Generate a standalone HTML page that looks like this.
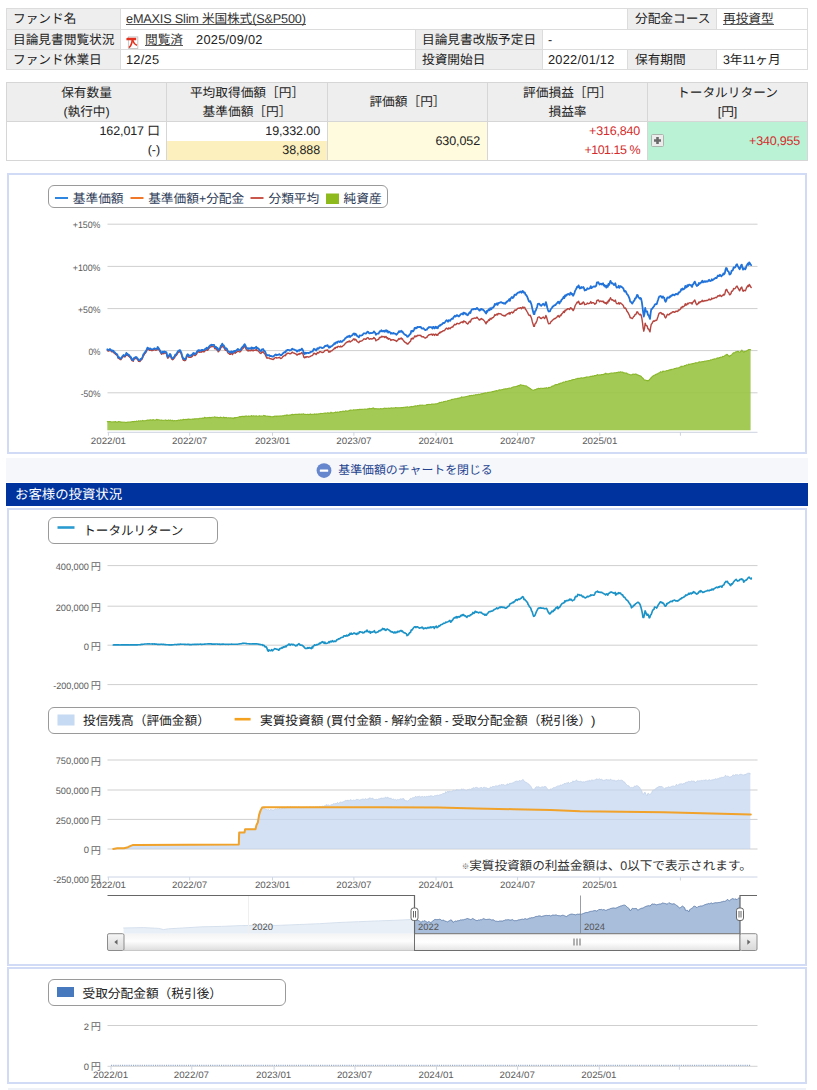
<!DOCTYPE html>
<html lang="ja"><head><meta charset="utf-8"><title>eMAXIS Slim S&amp;P500</title>
<style>
html,body{margin:0;padding:0;background:#fff}
body{text-rendering:geometricPrecision;width:817px;height:1090px;position:relative;overflow:hidden;font-family:"Liberation Sans","Noto Sans CJK JP",sans-serif;font-size:12.7px;color:#222}
.a{position:absolute;box-sizing:border-box}
.t1{left:6px;top:8px;width:802px;height:62px;background:#dcdcdc}
.c{position:absolute;box-sizing:border-box;height:20px;line-height:20px;padding-left:6px;white-space:nowrap;background:#fff;overflow:hidden}
.c.l{background:#eee}
.r1{top:1px;height:20px;line-height:21px}.r2{top:22px;height:19px;line-height:21px}.r3{top:42px;height:19px;line-height:21px}
.u{line-height:0;color:#333;background:linear-gradient(#555,#555) no-repeat;background-size:100% 1.200px;background-position:0 calc(100% - 1.200px)}
.n,.nd,.nl{line-height:0}
.n{font-size:12.5px;letter-spacing:-0.1px}
.nd{font-size:12.8px;letter-spacing:.25px}
.nl{font-size:12.7px;letter-spacing:-0.18px}
.t2{left:6px;top:82px;width:802px;height:79px;background:#d6d6d6}
.h{position:absolute;box-sizing:border-box;background:#eee;text-align:center;line-height:19px;top:1px;height:38px;padding-top:1px;white-space:nowrap}
.d{position:absolute;box-sizing:border-box;background:#fff;text-align:right;white-space:nowrap}
.red{color:#d52b2b}
.box{position:absolute;left:7px;width:800px;border:2px solid #d2dbf6;box-sizing:border-box;background:#fff}
.lg{position:absolute;box-sizing:border-box;border:1px solid #9a9a9a;border-radius:6px;background:#fff;white-space:nowrap;color:#333}
svg text{font-family:"Liberation Sans","Noto Sans CJK JP",sans-serif}
</style></head>
<body>

<!-- fund info table -->
<div class="a t1">
  <div class="c l r1" style="left:1px;width:113px">ファンド名</div>
  <div class="c r1" style="left:115px;width:506px;padding-left:5px"><span class="u nl">eMAXIS Slim 米国株式(S&amp;P500)</span></div>
  <div class="c l r1" style="left:622px;width:88px;padding-left:7px">分配金コース</div>
  <div class="c r1" style="left:711px;width:90px"><span class="u">再投資型</span></div>

  <div class="c l r2" style="left:1px;width:113px">目論見書閲覧状況</div>
  <div class="c r2" style="left:115px;width:294px;padding-left:5px"><svg class="a" style="left:5px;top:5.500px" width="13" height="13" viewBox="0 0 13 13"><rect x="2.400" y="0.900" width="9.400" height="11.600" fill="#fff" stroke="#c4c4c4" stroke-width="0.900"/><path d="M0.400 2.300l1-0.500h8.800v2.400H0.400z" fill="#e2321f"/><path d="M6.300 3.600C6 7 4.900 10 3 11.600" stroke="#e2321f" stroke-width="1.600" fill="none"/><path d="M6.700 3.600C7.300 6.500 8.700 8.500 11 9.200" stroke="#e2321f" stroke-width="1.500" fill="none"/></svg><span class="u" style="margin-left:19px">閲覧済</span><span class="nd" style="margin-left:13px">2025/09/02</span></div>
  <div class="c l r2" style="left:410px;width:126px">目論見書改版予定日</div>
  <div class="c r2" style="left:537px;width:264px;padding-left:5px"><span class="n">-</span></div>

  <div class="c l r3" style="left:1px;width:113px">ファンド休業日</div>
  <div class="c r3" style="left:115px;width:294px;padding-left:5px"><span class="nd">12/25</span></div>
  <div class="c l r3" style="left:410px;width:126px">投資開始日</div>
  <div class="c r3" style="left:537px;width:84px;padding-left:5px"><span class="nd">2022/01/12</span></div>
  <div class="c l r3" style="left:622px;width:88px;padding-left:7px">保有期間</div>
  <div class="c r3" style="left:711px;width:90px"><span class="n">3</span>年<span class="n">11</span>ヶ月</div>
</div>

<!-- holdings table -->
<div class="a t2">
  <div class="h" style="left:1px;width:159px">保有数量<br><span class="n">(</span>執行中<span class="n">)</span></div>
  <div class="h" style="left:161px;width:160px">平均取得価額［円］<br>基準価額［円］</div>
  <div class="h" style="left:322px;width:159px;line-height:38px;padding-top:0">評価額［円］</div>
  <div class="h" style="left:482px;width:159px">評価損益［円］<br>損益率</div>
  <div class="h" style="left:642px;width:159px">トータルリターン<br><span class="n">[</span>円<span class="n">]</span></div>

  <div class="d" style="left:1px;top:40px;width:159px;height:38px;line-height:19px;padding-right:6px"><span class="n">162,017 </span>口<br><span class="n">(-)</span></div>
  <div class="d" style="left:161px;top:40px;width:160px;height:19px;line-height:19px;padding-right:7px"><span class="n">19,332.00</span></div>
  <div class="d" style="left:161px;top:59px;width:160px;height:19px;line-height:19px;padding-right:7px;background:#fcf1be"><span class="n">38,888</span></div>
  <div class="d" style="left:322px;top:40px;width:159px;height:38px;line-height:38px;padding-right:7px;background:#fffbde"><span class="n">630,052</span></div>
  <div class="d red" style="left:482px;top:40px;width:159px;height:38px;line-height:19px;padding-right:7px"><span class="n" style="letter-spacing:-0.2px">+316,840</span><br><span class="n" style="letter-spacing:-0.5px">+101.15 %</span></div>
  <div class="d red" style="left:642px;top:40px;width:159px;height:38px;line-height:38px;padding-right:7px;background:#baf2d6"><span class="n" style="letter-spacing:-0.2px">+340,955</span>
    <svg class="a" style="left:2.500px;top:12.300px" width="13" height="13" viewBox="0 0 13 13"><rect x="0.500" y="0.500" width="12" height="12" rx="1" fill="#ececec" stroke="#a9b5ad"/><path d="M3 6.500h7M6.500 3v7" stroke="#6a6a6a" stroke-width="2.600"/></svg></div>
</div>

<!-- chart 1 -->
<div class="box" style="top:173px;height:281px"></div>
<div class="lg" style="left:48px;top:185px;width:340px;height:23px"></div>
<svg class="a" style="left:0;top:0" width="817" height="1090" viewBox="0 0 817 1090"><path d="M55 198h13" stroke="#2f86e0" stroke-width="2"/><text x="72.80" y="202.60" font-size="12.70" fill="#2e3c58">基準価額</text><path d="M130.500 198h13" stroke="#f07828" stroke-width="2"/><text x="148.20" y="202.60" font-size="12.70" fill="#2e3c58">基準価額</text><text x="199.00" y="202.60" font-size="12.70" text-anchor="start" fill="#2e3c58" textLength="7.21" lengthAdjust="spacingAndGlyphs">+</text><text x="206.20" y="202.60" font-size="12.70" fill="#2e3c58">分配金</text><path d="M250.500 198h13" stroke="#c0392b" stroke-width="1.700"/><text x="268.50" y="202.60" font-size="12.70" fill="#2e3c58">分類平均</text><rect x="326" y="193.500" width="13" height="10.500" fill="#8fba1e"/><text x="343.60" y="202.60" font-size="12.70" fill="#2e3c58">純資産</text><path d="M107.5 224.2H757.5" stroke="#cfcfcf" stroke-width="1"/><text x="100.50" y="228.40" font-size="9.30" text-anchor="end" fill="#5c5c5c" textLength="27.77" lengthAdjust="spacingAndGlyphs">+150%</text><path d="M107.5 266.4H757.5" stroke="#cfcfcf" stroke-width="1"/><text x="100.50" y="270.60" font-size="9.30" text-anchor="end" fill="#5c5c5c" textLength="27.77" lengthAdjust="spacingAndGlyphs">+100%</text><path d="M107.5 308.6H757.5" stroke="#cfcfcf" stroke-width="1"/><text x="100.50" y="312.80" font-size="9.30" text-anchor="end" fill="#5c5c5c" textLength="22.54" lengthAdjust="spacingAndGlyphs">+50%</text><path d="M107.5 350.6H757.5" stroke="#cfcfcf" stroke-width="1"/><text x="100.50" y="354.80" font-size="9.30" text-anchor="end" fill="#5c5c5c" textLength="12.04" lengthAdjust="spacingAndGlyphs">0%</text><path d="M107.5 392.8H757.5" stroke="#cfcfcf" stroke-width="1"/><text x="100.50" y="397.00" font-size="9.30" text-anchor="end" fill="#5c5c5c" textLength="19.84" lengthAdjust="spacingAndGlyphs">-50%</text><path d="M107.3 430.2L107.3 421.6L108.0 421.7L108.7 421.6L109.4 421.6L110.0 421.5L110.7 421.7L111.4 422.0L112.1 421.9L112.8 422.0L113.4 421.9L114.1 421.9L114.8 421.9L115.5 421.5L116.2 422.1L116.8 422.0L117.5 422.1L118.2 421.6L118.9 421.6L119.6 421.8L120.2 421.9L120.9 422.1L121.6 422.1L122.3 422.2L123.0 422.0L123.6 422.2L124.3 422.3L125.0 422.1L125.7 422.6L126.4 422.4L127.0 422.5L127.7 422.1L128.4 422.0L129.1 422.0L129.8 422.0L130.4 422.1L131.1 421.9L131.8 421.7L132.5 421.5L133.2 421.6L133.8 421.9L134.5 421.4L135.2 421.5L135.9 421.5L136.6 421.0L137.2 421.3L137.9 421.5L138.6 420.7L139.3 421.0L140.0 421.0L140.6 420.8L141.3 421.0L142.0 420.8L142.7 420.4L143.4 420.9L144.0 420.7L144.7 420.7L145.4 420.8L146.1 420.5L146.8 420.4L147.4 420.0L148.1 420.4L148.8 420.1L149.5 420.1L150.2 419.9L150.8 419.9L151.5 420.0L152.2 420.4L152.9 419.6L153.6 419.7L154.2 420.1L154.9 420.3L155.6 420.1L156.3 419.6L157.0 419.4L157.6 420.0L158.3 419.8L159.0 419.8L159.7 420.2L160.4 420.3L161.0 420.1L161.7 420.1L162.4 420.2L163.1 420.5L163.8 420.3L164.4 420.3L165.1 420.3L165.8 419.9L166.5 420.5L167.2 420.5L167.8 420.4L168.5 419.9L169.2 420.2L169.9 420.6L170.6 420.0L171.2 420.4L171.9 420.7L172.6 420.2L173.3 420.9L174.0 420.7L174.6 420.5L175.3 420.7L176.0 420.7L176.7 420.5L177.4 420.6L178.0 420.2L178.7 420.1L179.4 420.4L180.1 420.1L180.8 419.8L181.4 420.1L182.1 420.1L182.8 419.6L183.5 419.4L184.2 419.6L184.8 419.5L185.5 419.4L186.2 419.8L186.9 419.2L187.6 419.6L188.2 419.0L188.9 419.1L189.6 419.4L190.3 419.4L191.0 419.3L191.6 419.2L192.3 419.1L193.0 419.0L193.7 419.1L194.4 418.9L195.0 418.9L195.7 418.9L196.4 418.7L197.1 418.8L197.8 418.7L198.4 418.9L199.1 418.5L199.8 418.3L200.5 418.2L201.2 418.2L201.8 418.4L202.5 418.0L203.2 418.1L203.9 418.4L204.6 417.3L205.2 417.6L205.9 417.9L206.6 417.9L207.3 417.8L208.0 417.6L208.6 417.8L209.3 417.6L210.0 417.4L210.7 418.0L211.4 417.5L212.0 417.3L212.7 417.3L213.4 417.3L214.1 417.3L214.8 416.7L215.4 417.2L216.1 417.6L216.8 417.1L217.5 417.4L218.2 417.6L218.8 417.6L219.5 417.8L220.2 417.1L220.9 417.4L221.6 417.5L222.2 417.7L222.9 417.8L223.6 417.0L224.3 417.9L225.0 417.3L225.6 417.8L226.3 417.4L227.0 417.8L227.7 418.0L228.4 417.7L229.0 417.8L229.7 418.0L230.4 417.9L231.1 417.8L231.8 418.2L232.4 418.1L233.1 417.9L233.8 418.6L234.5 417.6L235.2 417.9L235.8 417.6L236.5 417.5L237.2 417.5L237.9 417.3L238.6 417.3L239.2 416.7L239.9 416.6L240.6 417.0L241.3 416.5L242.0 416.4L242.6 416.2L243.3 416.6L244.0 416.4L244.7 416.6L245.4 416.0L246.0 416.2L246.7 415.9L247.4 416.3L248.1 416.5L248.8 415.9L249.4 416.4L250.1 416.3L250.8 416.0L251.5 415.6L252.2 416.3L252.8 416.0L253.5 415.8L254.2 416.0L254.9 416.0L255.6 416.3L256.2 415.7L256.9 416.2L257.6 416.3L258.3 416.3L259.0 415.9L259.6 415.8L260.3 416.2L261.0 416.0L261.7 416.0L262.4 416.3L263.0 415.9L263.7 415.4L264.4 415.9L265.1 415.6L265.8 416.3L266.4 416.2L267.1 416.0L267.8 416.2L268.5 416.4L269.2 416.3L269.8 416.6L270.5 416.4L271.2 416.7L271.9 416.8L272.6 416.9L273.2 416.4L273.9 416.8L274.6 416.1L275.3 416.2L276.0 416.0L276.6 416.6L277.3 416.0L278.0 416.2L278.7 416.1L279.4 416.1L280.0 415.9L280.7 416.0L281.4 416.2L282.1 415.8L282.8 415.8L283.4 415.9L284.1 415.5L284.8 415.2L285.5 415.3L286.2 415.6L286.8 414.9L287.5 415.1L288.2 415.4L288.9 415.3L289.6 415.0L290.2 415.1L290.9 414.9L291.6 414.6L292.3 414.4L293.0 414.6L293.6 414.8L294.3 414.5L295.0 414.4L295.7 414.4L296.4 414.2L297.0 414.5L297.7 414.2L298.4 414.5L299.1 413.9L299.8 414.5L300.4 414.3L301.1 413.9L301.8 414.5L302.5 414.3L303.2 413.8L303.8 414.1L304.5 414.4L305.2 414.2L305.9 414.5L306.6 414.5L307.2 414.4L307.9 414.4L308.6 414.6L309.3 414.4L310.0 414.4L310.6 413.8L311.3 414.5L312.0 414.6L312.7 414.2L313.4 414.2L314.0 414.7L314.7 413.8L315.4 414.2L316.1 414.6L316.8 413.8L317.4 414.1L318.1 414.3L318.8 413.8L319.5 413.8L320.2 413.8L320.8 413.4L321.5 413.5L322.2 413.5L322.9 413.6L323.6 413.3L324.2 413.2L324.9 413.0L325.6 413.1L326.3 413.3L327.0 413.1L327.6 412.8L328.3 412.8L329.0 413.5L329.7 413.1L330.4 413.0L331.0 412.2L331.7 412.9L332.4 412.8L333.1 413.0L333.8 412.7L334.4 412.5L335.1 412.5L335.8 411.9L336.5 412.5L337.2 412.2L337.8 411.9L338.5 412.3L339.2 412.3L339.9 411.5L340.6 411.6L341.2 411.7L341.9 411.6L342.6 411.3L343.3 411.1L344.0 411.7L344.6 411.4L345.3 410.8L346.0 410.7L346.7 411.3L347.4 411.0L348.0 411.1L348.7 410.8L349.4 410.3L350.1 410.5L350.8 409.9L351.4 410.1L352.1 410.2L352.8 410.2L353.5 409.8L354.2 409.9L354.8 410.0L355.5 409.9L356.2 409.9L356.9 409.8L357.6 409.6L358.2 409.8L358.9 409.6L359.6 409.4L360.3 409.4L361.0 409.5L361.6 409.4L362.3 409.4L363.0 409.3L363.7 409.3L364.4 409.2L365.0 408.9L365.7 409.2L366.4 409.3L367.1 409.1L367.8 408.9L368.4 409.0L369.1 408.6L369.8 408.4L370.5 408.7L371.2 408.5L371.8 408.8L372.5 408.3L373.2 407.9L373.9 408.3L374.6 409.0L375.2 408.7L375.9 408.6L376.6 408.7L377.3 408.9L378.0 408.9L378.6 408.8L379.3 409.0L380.0 408.8L380.7 408.6L381.4 408.7L382.0 408.9L382.7 408.7L383.4 408.6L384.1 408.1L384.8 408.3L385.4 408.4L386.1 408.2L386.8 408.4L387.5 408.3L388.2 408.3L388.8 408.0L389.5 408.6L390.2 408.2L390.9 407.9L391.6 407.9L392.2 408.4L392.9 407.8L393.6 408.0L394.3 408.0L395.0 407.8L395.6 407.5L396.3 407.8L397.0 407.8L397.7 407.9L398.4 407.8L399.0 407.7L399.7 407.8L400.4 407.7L401.1 407.6L401.8 407.6L402.4 407.5L403.1 407.7L403.8 407.3L404.5 407.3L405.2 407.4L405.8 407.1L406.5 407.2L407.2 406.8L407.9 407.0L408.6 407.2L409.2 407.1L409.9 406.9L410.6 406.7L411.3 406.4L412.0 407.0L412.6 406.6L413.3 406.7L414.0 406.1L414.7 406.2L415.4 405.8L416.0 406.2L416.7 406.2L417.4 405.5L418.1 405.8L418.8 405.8L419.4 405.2L420.1 405.1L420.8 405.2L421.5 405.2L422.2 405.0L422.8 405.2L423.5 405.2L424.2 405.2L424.9 405.2L425.6 405.3L426.2 405.1L426.9 404.5L427.6 404.6L428.3 404.5L429.0 404.4L429.6 404.5L430.3 404.5L431.0 404.5L431.7 404.0L432.4 404.0L433.0 404.2L433.7 404.1L434.4 404.0L435.1 404.0L435.8 403.8L436.4 403.9L437.1 403.7L437.8 403.4L438.5 403.1L439.2 403.0L439.8 402.3L440.5 402.5L441.2 402.5L441.9 402.0L442.6 402.2L443.2 402.0L443.9 401.5L444.6 401.5L445.3 401.4L446.0 401.3L446.6 401.2L447.3 400.9L448.0 400.5L448.7 400.5L449.4 400.3L450.0 400.3L450.7 400.0L451.4 399.6L452.1 399.4L452.8 399.4L453.4 399.2L454.1 398.9L454.8 399.0L455.5 398.7L456.2 398.7L456.8 398.7L457.5 398.3L458.2 398.7L458.9 398.0L459.6 398.1L460.2 397.8L460.9 397.8L461.6 396.9L462.3 397.1L463.0 397.2L463.6 397.1L464.3 397.3L465.0 396.7L465.7 396.8L466.4 396.5L467.0 396.4L467.7 396.2L468.4 396.0L469.1 396.0L469.8 395.5L470.4 395.9L471.1 395.3L471.8 395.5L472.5 395.8L473.2 395.2L473.8 395.1L474.5 395.2L475.2 394.9L475.9 394.6L476.6 394.7L477.2 394.7L477.9 394.6L478.6 394.1L479.3 394.6L480.0 394.4L480.6 394.0L481.3 393.9L482.0 393.6L482.7 393.9L483.4 393.3L484.0 393.4L484.7 393.1L485.4 392.9L486.1 393.0L486.8 393.0L487.4 392.6L488.1 392.3L488.8 392.5L489.5 392.2L490.2 392.1L490.8 392.3L491.5 392.0L492.2 391.6L492.9 392.0L493.6 391.4L494.2 391.4L494.9 391.0L495.6 391.0L496.3 390.5L497.0 391.1L497.6 390.9L498.3 390.2L499.0 390.0L499.7 389.8L500.4 390.3L501.0 389.8L501.7 389.7L502.4 389.6L503.1 389.5L503.8 389.1L504.4 389.2L505.1 388.8L505.8 388.9L506.5 388.9L507.2 388.8L507.8 388.5L508.5 388.2L509.2 388.3L509.9 388.0L510.6 388.3L511.2 388.0L511.9 387.6L512.6 387.3L513.3 387.0L514.0 386.8L514.6 386.7L515.3 386.7L516.0 386.5L516.7 386.3L517.4 386.4L518.0 385.6L518.7 385.6L519.4 386.0L520.1 384.8L520.8 384.8L521.4 385.1L522.1 385.2L522.8 385.4L523.5 385.4L524.2 385.7L524.8 385.8L525.5 386.1L526.2 385.8L526.9 386.4L527.6 387.0L528.2 387.2L528.9 387.6L529.6 388.4L530.3 388.5L531.0 389.2L531.6 389.6L532.3 389.9L533.0 390.4L533.7 390.3L534.4 389.7L535.0 389.7L535.7 389.6L536.4 389.1L537.1 388.9L537.8 388.8L538.4 388.2L539.1 388.5L539.8 388.8L540.5 388.2L541.2 388.3L541.8 388.2L542.5 388.6L543.2 388.3L543.9 388.4L544.6 388.0L545.2 388.1L545.9 388.1L546.6 387.6L547.3 388.3L548.0 388.2L548.6 387.4L549.3 387.7L550.0 387.2L550.7 387.1L551.4 386.8L552.0 386.1L552.7 386.1L553.4 386.2L554.1 385.5L554.8 385.1L555.4 384.8L556.1 384.5L556.8 384.6L557.5 384.6L558.2 384.1L558.8 383.8L559.5 384.1L560.2 383.2L560.9 383.0L561.6 383.1L562.2 382.9L562.9 382.3L563.6 382.1L564.3 382.2L565.0 382.0L565.6 381.4L566.3 381.5L567.0 381.2L567.7 381.2L568.4 380.9L569.0 380.7L569.7 380.5L570.4 380.6L571.1 380.5L571.8 379.9L572.4 380.0L573.1 379.5L573.8 379.5L574.5 379.5L575.2 379.4L575.8 378.9L576.5 378.8L577.2 378.8L577.9 378.3L578.6 378.6L579.2 378.3L579.9 378.5L580.6 378.1L581.3 377.8L582.0 378.1L582.6 378.1L583.3 377.8L584.0 378.0L584.7 377.6L585.4 377.4L586.0 377.5L586.7 376.9L587.4 377.0L588.1 377.0L588.8 377.0L589.4 376.7L590.1 376.6L590.8 376.3L591.5 376.4L592.2 376.5L592.8 375.9L593.5 376.4L594.2 375.6L594.9 375.6L595.6 375.5L596.2 375.6L596.9 374.9L597.6 374.6L598.3 375.1L599.0 375.0L599.6 374.9L600.3 375.3L601.0 374.6L601.7 374.5L602.4 374.6L603.0 374.4L603.7 374.6L604.4 373.9L605.1 374.0L605.8 373.2L606.4 374.0L607.1 373.7L607.8 373.9L608.5 374.1L609.2 373.5L609.8 373.4L610.5 373.2L611.2 373.0L611.9 373.0L612.6 373.2L613.2 373.0L613.9 372.9L614.6 372.7L615.3 372.9L616.0 372.7L616.6 372.5L617.3 372.6L618.0 372.3L618.7 372.0L619.4 372.5L620.0 372.1L620.7 371.8L621.4 372.3L622.1 372.3L622.8 372.0L623.4 372.9L624.1 372.7L624.8 373.0L625.5 373.0L626.2 373.1L626.8 373.1L627.5 373.9L628.2 374.0L628.9 374.2L629.6 374.6L630.2 374.8L630.9 375.1L631.6 374.7L632.3 374.6L633.0 374.0L633.6 374.3L634.3 374.4L635.0 374.4L635.7 373.9L636.4 374.2L637.0 374.9L637.7 374.7L638.4 375.2L639.1 375.7L639.8 375.6L640.4 376.1L641.1 376.3L641.8 377.1L642.5 377.8L643.2 378.5L643.8 379.4L644.5 380.3L645.2 380.0L645.9 380.2L646.6 380.6L647.2 380.5L647.9 381.0L648.6 380.6L649.3 379.8L650.0 379.3L650.6 378.1L651.3 377.9L652.0 376.8L652.7 376.3L653.4 375.7L654.0 375.4L654.7 375.3L655.4 374.8L656.1 374.3L656.8 374.1L657.4 374.0L658.1 373.3L658.8 373.0L659.5 372.8L660.2 372.3L660.8 371.6L661.5 372.3L662.2 372.1L662.9 371.1L663.6 371.4L664.2 371.3L664.9 371.3L665.6 371.1L666.3 370.8L667.0 370.5L667.6 370.6L668.3 370.7L669.0 370.0L669.7 369.9L670.4 370.0L671.0 369.4L671.7 369.6L672.4 369.3L673.1 369.3L673.8 368.9L674.4 368.6L675.1 368.5L675.8 368.4L676.5 368.1L677.2 368.0L677.8 368.0L678.5 367.9L679.2 367.8L679.9 367.0L680.6 366.9L681.2 366.2L681.9 367.0L682.6 366.2L683.3 366.2L684.0 366.1L684.6 365.5L685.3 365.7L686.0 365.3L686.7 364.7L687.4 365.0L688.0 365.0L688.7 364.1L689.4 364.5L690.1 364.2L690.8 364.0L691.4 363.9L692.1 364.0L692.8 363.5L693.5 363.6L694.2 363.2L694.8 363.3L695.5 362.8L696.2 362.8L696.9 363.1L697.6 362.7L698.2 362.4L698.9 362.0L699.6 361.9L700.3 362.0L701.0 362.1L701.6 361.8L702.3 361.8L703.0 361.5L703.7 361.7L704.4 361.2L705.0 361.1L705.7 361.3L706.4 361.0L707.1 360.8L707.8 360.7L708.4 360.6L709.1 360.7L709.8 360.4L710.5 359.9L711.2 360.1L711.8 359.8L712.5 359.4L713.2 359.5L713.9 359.1L714.6 358.9L715.2 359.0L715.9 358.9L716.6 358.2L717.3 358.3L718.0 357.8L718.6 358.3L719.3 357.5L720.0 357.7L720.7 357.1L721.4 357.3L722.0 357.4L722.7 356.2L723.4 356.5L724.1 356.4L724.8 355.7L725.4 355.0L726.1 355.1L726.8 354.4L727.5 354.6L728.2 355.7L728.8 355.7L729.5 356.6L730.2 355.7L730.9 355.3L731.6 355.0L732.2 354.2L732.9 353.4L733.6 352.7L734.3 352.9L735.0 352.5L735.6 351.9L736.3 352.0L737.0 351.6L737.7 351.4L738.4 351.2L739.0 352.1L739.7 352.3L740.4 351.7L741.1 351.2L741.8 350.0L742.4 351.0L743.1 351.5L743.8 352.4L744.5 351.6L745.2 351.4L745.8 351.2L746.5 351.1L747.2 350.4L747.9 350.4L748.6 349.5L749.2 349.5L749.9 349.5L750.6 349.8L750.6 430.2Z" fill="rgba(154,196,68,0.9)"/><path d="M107.3 421.6L108.0 421.7L108.7 421.6L109.4 421.6L110.0 421.5L110.7 421.7L111.4 422.0L112.1 421.9L112.8 422.0L113.4 421.9L114.1 421.9L114.8 421.9L115.5 421.5L116.2 422.1L116.8 422.0L117.5 422.1L118.2 421.6L118.9 421.6L119.6 421.8L120.2 421.9L120.9 422.1L121.6 422.1L122.3 422.2L123.0 422.0L123.6 422.2L124.3 422.3L125.0 422.1L125.7 422.6L126.4 422.4L127.0 422.5L127.7 422.1L128.4 422.0L129.1 422.0L129.8 422.0L130.4 422.1L131.1 421.9L131.8 421.7L132.5 421.5L133.2 421.6L133.8 421.9L134.5 421.4L135.2 421.5L135.9 421.5L136.6 421.0L137.2 421.3L137.9 421.5L138.6 420.7L139.3 421.0L140.0 421.0L140.6 420.8L141.3 421.0L142.0 420.8L142.7 420.4L143.4 420.9L144.0 420.7L144.7 420.7L145.4 420.8L146.1 420.5L146.8 420.4L147.4 420.0L148.1 420.4L148.8 420.1L149.5 420.1L150.2 419.9L150.8 419.9L151.5 420.0L152.2 420.4L152.9 419.6L153.6 419.7L154.2 420.1L154.9 420.3L155.6 420.1L156.3 419.6L157.0 419.4L157.6 420.0L158.3 419.8L159.0 419.8L159.7 420.2L160.4 420.3L161.0 420.1L161.7 420.1L162.4 420.2L163.1 420.5L163.8 420.3L164.4 420.3L165.1 420.3L165.8 419.9L166.5 420.5L167.2 420.5L167.8 420.4L168.5 419.9L169.2 420.2L169.9 420.6L170.6 420.0L171.2 420.4L171.9 420.7L172.6 420.2L173.3 420.9L174.0 420.7L174.6 420.5L175.3 420.7L176.0 420.7L176.7 420.5L177.4 420.6L178.0 420.2L178.7 420.1L179.4 420.4L180.1 420.1L180.8 419.8L181.4 420.1L182.1 420.1L182.8 419.6L183.5 419.4L184.2 419.6L184.8 419.5L185.5 419.4L186.2 419.8L186.9 419.2L187.6 419.6L188.2 419.0L188.9 419.1L189.6 419.4L190.3 419.4L191.0 419.3L191.6 419.2L192.3 419.1L193.0 419.0L193.7 419.1L194.4 418.9L195.0 418.9L195.7 418.9L196.4 418.7L197.1 418.8L197.8 418.7L198.4 418.9L199.1 418.5L199.8 418.3L200.5 418.2L201.2 418.2L201.8 418.4L202.5 418.0L203.2 418.1L203.9 418.4L204.6 417.3L205.2 417.6L205.9 417.9L206.6 417.9L207.3 417.8L208.0 417.6L208.6 417.8L209.3 417.6L210.0 417.4L210.7 418.0L211.4 417.5L212.0 417.3L212.7 417.3L213.4 417.3L214.1 417.3L214.8 416.7L215.4 417.2L216.1 417.6L216.8 417.1L217.5 417.4L218.2 417.6L218.8 417.6L219.5 417.8L220.2 417.1L220.9 417.4L221.6 417.5L222.2 417.7L222.9 417.8L223.6 417.0L224.3 417.9L225.0 417.3L225.6 417.8L226.3 417.4L227.0 417.8L227.7 418.0L228.4 417.7L229.0 417.8L229.7 418.0L230.4 417.9L231.1 417.8L231.8 418.2L232.4 418.1L233.1 417.9L233.8 418.6L234.5 417.6L235.2 417.9L235.8 417.6L236.5 417.5L237.2 417.5L237.9 417.3L238.6 417.3L239.2 416.7L239.9 416.6L240.6 417.0L241.3 416.5L242.0 416.4L242.6 416.2L243.3 416.6L244.0 416.4L244.7 416.6L245.4 416.0L246.0 416.2L246.7 415.9L247.4 416.3L248.1 416.5L248.8 415.9L249.4 416.4L250.1 416.3L250.8 416.0L251.5 415.6L252.2 416.3L252.8 416.0L253.5 415.8L254.2 416.0L254.9 416.0L255.6 416.3L256.2 415.7L256.9 416.2L257.6 416.3L258.3 416.3L259.0 415.9L259.6 415.8L260.3 416.2L261.0 416.0L261.7 416.0L262.4 416.3L263.0 415.9L263.7 415.4L264.4 415.9L265.1 415.6L265.8 416.3L266.4 416.2L267.1 416.0L267.8 416.2L268.5 416.4L269.2 416.3L269.8 416.6L270.5 416.4L271.2 416.7L271.9 416.8L272.6 416.9L273.2 416.4L273.9 416.8L274.6 416.1L275.3 416.2L276.0 416.0L276.6 416.6L277.3 416.0L278.0 416.2L278.7 416.1L279.4 416.1L280.0 415.9L280.7 416.0L281.4 416.2L282.1 415.8L282.8 415.8L283.4 415.9L284.1 415.5L284.8 415.2L285.5 415.3L286.2 415.6L286.8 414.9L287.5 415.1L288.2 415.4L288.9 415.3L289.6 415.0L290.2 415.1L290.9 414.9L291.6 414.6L292.3 414.4L293.0 414.6L293.6 414.8L294.3 414.5L295.0 414.4L295.7 414.4L296.4 414.2L297.0 414.5L297.7 414.2L298.4 414.5L299.1 413.9L299.8 414.5L300.4 414.3L301.1 413.9L301.8 414.5L302.5 414.3L303.2 413.8L303.8 414.1L304.5 414.4L305.2 414.2L305.9 414.5L306.6 414.5L307.2 414.4L307.9 414.4L308.6 414.6L309.3 414.4L310.0 414.4L310.6 413.8L311.3 414.5L312.0 414.6L312.7 414.2L313.4 414.2L314.0 414.7L314.7 413.8L315.4 414.2L316.1 414.6L316.8 413.8L317.4 414.1L318.1 414.3L318.8 413.8L319.5 413.8L320.2 413.8L320.8 413.4L321.5 413.5L322.2 413.5L322.9 413.6L323.6 413.3L324.2 413.2L324.9 413.0L325.6 413.1L326.3 413.3L327.0 413.1L327.6 412.8L328.3 412.8L329.0 413.5L329.7 413.1L330.4 413.0L331.0 412.2L331.7 412.9L332.4 412.8L333.1 413.0L333.8 412.7L334.4 412.5L335.1 412.5L335.8 411.9L336.5 412.5L337.2 412.2L337.8 411.9L338.5 412.3L339.2 412.3L339.9 411.5L340.6 411.6L341.2 411.7L341.9 411.6L342.6 411.3L343.3 411.1L344.0 411.7L344.6 411.4L345.3 410.8L346.0 410.7L346.7 411.3L347.4 411.0L348.0 411.1L348.7 410.8L349.4 410.3L350.1 410.5L350.8 409.9L351.4 410.1L352.1 410.2L352.8 410.2L353.5 409.8L354.2 409.9L354.8 410.0L355.5 409.9L356.2 409.9L356.9 409.8L357.6 409.6L358.2 409.8L358.9 409.6L359.6 409.4L360.3 409.4L361.0 409.5L361.6 409.4L362.3 409.4L363.0 409.3L363.7 409.3L364.4 409.2L365.0 408.9L365.7 409.2L366.4 409.3L367.1 409.1L367.8 408.9L368.4 409.0L369.1 408.6L369.8 408.4L370.5 408.7L371.2 408.5L371.8 408.8L372.5 408.3L373.2 407.9L373.9 408.3L374.6 409.0L375.2 408.7L375.9 408.6L376.6 408.7L377.3 408.9L378.0 408.9L378.6 408.8L379.3 409.0L380.0 408.8L380.7 408.6L381.4 408.7L382.0 408.9L382.7 408.7L383.4 408.6L384.1 408.1L384.8 408.3L385.4 408.4L386.1 408.2L386.8 408.4L387.5 408.3L388.2 408.3L388.8 408.0L389.5 408.6L390.2 408.2L390.9 407.9L391.6 407.9L392.2 408.4L392.9 407.8L393.6 408.0L394.3 408.0L395.0 407.8L395.6 407.5L396.3 407.8L397.0 407.8L397.7 407.9L398.4 407.8L399.0 407.7L399.7 407.8L400.4 407.7L401.1 407.6L401.8 407.6L402.4 407.5L403.1 407.7L403.8 407.3L404.5 407.3L405.2 407.4L405.8 407.1L406.5 407.2L407.2 406.8L407.9 407.0L408.6 407.2L409.2 407.1L409.9 406.9L410.6 406.7L411.3 406.4L412.0 407.0L412.6 406.6L413.3 406.7L414.0 406.1L414.7 406.2L415.4 405.8L416.0 406.2L416.7 406.2L417.4 405.5L418.1 405.8L418.8 405.8L419.4 405.2L420.1 405.1L420.8 405.2L421.5 405.2L422.2 405.0L422.8 405.2L423.5 405.2L424.2 405.2L424.9 405.2L425.6 405.3L426.2 405.1L426.9 404.5L427.6 404.6L428.3 404.5L429.0 404.4L429.6 404.5L430.3 404.5L431.0 404.5L431.7 404.0L432.4 404.0L433.0 404.2L433.7 404.1L434.4 404.0L435.1 404.0L435.8 403.8L436.4 403.9L437.1 403.7L437.8 403.4L438.5 403.1L439.2 403.0L439.8 402.3L440.5 402.5L441.2 402.5L441.9 402.0L442.6 402.2L443.2 402.0L443.9 401.5L444.6 401.5L445.3 401.4L446.0 401.3L446.6 401.2L447.3 400.9L448.0 400.5L448.7 400.5L449.4 400.3L450.0 400.3L450.7 400.0L451.4 399.6L452.1 399.4L452.8 399.4L453.4 399.2L454.1 398.9L454.8 399.0L455.5 398.7L456.2 398.7L456.8 398.7L457.5 398.3L458.2 398.7L458.9 398.0L459.6 398.1L460.2 397.8L460.9 397.8L461.6 396.9L462.3 397.1L463.0 397.2L463.6 397.1L464.3 397.3L465.0 396.7L465.7 396.8L466.4 396.5L467.0 396.4L467.7 396.2L468.4 396.0L469.1 396.0L469.8 395.5L470.4 395.9L471.1 395.3L471.8 395.5L472.5 395.8L473.2 395.2L473.8 395.1L474.5 395.2L475.2 394.9L475.9 394.6L476.6 394.7L477.2 394.7L477.9 394.6L478.6 394.1L479.3 394.6L480.0 394.4L480.6 394.0L481.3 393.9L482.0 393.6L482.7 393.9L483.4 393.3L484.0 393.4L484.7 393.1L485.4 392.9L486.1 393.0L486.8 393.0L487.4 392.6L488.1 392.3L488.8 392.5L489.5 392.2L490.2 392.1L490.8 392.3L491.5 392.0L492.2 391.6L492.9 392.0L493.6 391.4L494.2 391.4L494.9 391.0L495.6 391.0L496.3 390.5L497.0 391.1L497.6 390.9L498.3 390.2L499.0 390.0L499.7 389.8L500.4 390.3L501.0 389.8L501.7 389.7L502.4 389.6L503.1 389.5L503.8 389.1L504.4 389.2L505.1 388.8L505.8 388.9L506.5 388.9L507.2 388.8L507.8 388.5L508.5 388.2L509.2 388.3L509.9 388.0L510.6 388.3L511.2 388.0L511.9 387.6L512.6 387.3L513.3 387.0L514.0 386.8L514.6 386.7L515.3 386.7L516.0 386.5L516.7 386.3L517.4 386.4L518.0 385.6L518.7 385.6L519.4 386.0L520.1 384.8L520.8 384.8L521.4 385.1L522.1 385.2L522.8 385.4L523.5 385.4L524.2 385.7L524.8 385.8L525.5 386.1L526.2 385.8L526.9 386.4L527.6 387.0L528.2 387.2L528.9 387.6L529.6 388.4L530.3 388.5L531.0 389.2L531.6 389.6L532.3 389.9L533.0 390.4L533.7 390.3L534.4 389.7L535.0 389.7L535.7 389.6L536.4 389.1L537.1 388.9L537.8 388.8L538.4 388.2L539.1 388.5L539.8 388.8L540.5 388.2L541.2 388.3L541.8 388.2L542.5 388.6L543.2 388.3L543.9 388.4L544.6 388.0L545.2 388.1L545.9 388.1L546.6 387.6L547.3 388.3L548.0 388.2L548.6 387.4L549.3 387.7L550.0 387.2L550.7 387.1L551.4 386.8L552.0 386.1L552.7 386.1L553.4 386.2L554.1 385.5L554.8 385.1L555.4 384.8L556.1 384.5L556.8 384.6L557.5 384.6L558.2 384.1L558.8 383.8L559.5 384.1L560.2 383.2L560.9 383.0L561.6 383.1L562.2 382.9L562.9 382.3L563.6 382.1L564.3 382.2L565.0 382.0L565.6 381.4L566.3 381.5L567.0 381.2L567.7 381.2L568.4 380.9L569.0 380.7L569.7 380.5L570.4 380.6L571.1 380.5L571.8 379.9L572.4 380.0L573.1 379.5L573.8 379.5L574.5 379.5L575.2 379.4L575.8 378.9L576.5 378.8L577.2 378.8L577.9 378.3L578.6 378.6L579.2 378.3L579.9 378.5L580.6 378.1L581.3 377.8L582.0 378.1L582.6 378.1L583.3 377.8L584.0 378.0L584.7 377.6L585.4 377.4L586.0 377.5L586.7 376.9L587.4 377.0L588.1 377.0L588.8 377.0L589.4 376.7L590.1 376.6L590.8 376.3L591.5 376.4L592.2 376.5L592.8 375.9L593.5 376.4L594.2 375.6L594.9 375.6L595.6 375.5L596.2 375.6L596.9 374.9L597.6 374.6L598.3 375.1L599.0 375.0L599.6 374.9L600.3 375.3L601.0 374.6L601.7 374.5L602.4 374.6L603.0 374.4L603.7 374.6L604.4 373.9L605.1 374.0L605.8 373.2L606.4 374.0L607.1 373.7L607.8 373.9L608.5 374.1L609.2 373.5L609.8 373.4L610.5 373.2L611.2 373.0L611.9 373.0L612.6 373.2L613.2 373.0L613.9 372.9L614.6 372.7L615.3 372.9L616.0 372.7L616.6 372.5L617.3 372.6L618.0 372.3L618.7 372.0L619.4 372.5L620.0 372.1L620.7 371.8L621.4 372.3L622.1 372.3L622.8 372.0L623.4 372.9L624.1 372.7L624.8 373.0L625.5 373.0L626.2 373.1L626.8 373.1L627.5 373.9L628.2 374.0L628.9 374.2L629.6 374.6L630.2 374.8L630.9 375.1L631.6 374.7L632.3 374.6L633.0 374.0L633.6 374.3L634.3 374.4L635.0 374.4L635.7 373.9L636.4 374.2L637.0 374.9L637.7 374.7L638.4 375.2L639.1 375.7L639.8 375.6L640.4 376.1L641.1 376.3L641.8 377.1L642.5 377.8L643.2 378.5L643.8 379.4L644.5 380.3L645.2 380.0L645.9 380.2L646.6 380.6L647.2 380.5L647.9 381.0L648.6 380.6L649.3 379.8L650.0 379.3L650.6 378.1L651.3 377.9L652.0 376.8L652.7 376.3L653.4 375.7L654.0 375.4L654.7 375.3L655.4 374.8L656.1 374.3L656.8 374.1L657.4 374.0L658.1 373.3L658.8 373.0L659.5 372.8L660.2 372.3L660.8 371.6L661.5 372.3L662.2 372.1L662.9 371.1L663.6 371.4L664.2 371.3L664.9 371.3L665.6 371.1L666.3 370.8L667.0 370.5L667.6 370.6L668.3 370.7L669.0 370.0L669.7 369.9L670.4 370.0L671.0 369.4L671.7 369.6L672.4 369.3L673.1 369.3L673.8 368.9L674.4 368.6L675.1 368.5L675.8 368.4L676.5 368.1L677.2 368.0L677.8 368.0L678.5 367.9L679.2 367.8L679.9 367.0L680.6 366.9L681.2 366.2L681.9 367.0L682.6 366.2L683.3 366.2L684.0 366.1L684.6 365.5L685.3 365.7L686.0 365.3L686.7 364.7L687.4 365.0L688.0 365.0L688.7 364.1L689.4 364.5L690.1 364.2L690.8 364.0L691.4 363.9L692.1 364.0L692.8 363.5L693.5 363.6L694.2 363.2L694.8 363.3L695.5 362.8L696.2 362.8L696.9 363.1L697.6 362.7L698.2 362.4L698.9 362.0L699.6 361.9L700.3 362.0L701.0 362.1L701.6 361.8L702.3 361.8L703.0 361.5L703.7 361.7L704.4 361.2L705.0 361.1L705.7 361.3L706.4 361.0L707.1 360.8L707.8 360.7L708.4 360.6L709.1 360.7L709.8 360.4L710.5 359.9L711.2 360.1L711.8 359.8L712.5 359.4L713.2 359.5L713.9 359.1L714.6 358.9L715.2 359.0L715.9 358.9L716.6 358.2L717.3 358.3L718.0 357.8L718.6 358.3L719.3 357.5L720.0 357.7L720.7 357.1L721.4 357.3L722.0 357.4L722.7 356.2L723.4 356.5L724.1 356.4L724.8 355.7L725.4 355.0L726.1 355.1L726.8 354.4L727.5 354.6L728.2 355.7L728.8 355.7L729.5 356.6L730.2 355.7L730.9 355.3L731.6 355.0L732.2 354.2L732.9 353.4L733.6 352.7L734.3 352.9L735.0 352.5L735.6 351.9L736.3 352.0L737.0 351.6L737.7 351.4L738.4 351.2L739.0 352.1L739.7 352.3L740.4 351.7L741.1 351.2L741.8 350.0L742.4 351.0L743.1 351.5L743.8 352.4L744.5 351.6L745.2 351.4L745.8 351.2L746.5 351.1L747.2 350.4L747.9 350.4L748.6 349.5L749.2 349.5L749.9 349.5L750.6 349.8" fill="none" stroke="#8ab72c" stroke-width="1.1" stroke-linejoin="round" stroke-linecap="round"/><path d="M107.5 432.3H757.5" stroke="#ccd3df" stroke-width="1"/><path d="M108.4 432.300v3.500" stroke="#ccd3df" stroke-width="1"/><text x="108.40" y="444.40" font-size="9.30" text-anchor="middle" fill="#5c5c5c" textLength="35.20" lengthAdjust="spacingAndGlyphs">2022/01</text><path d="M189.7 432.300v3.500" stroke="#ccd3df" stroke-width="1"/><text x="189.70" y="444.40" font-size="9.30" text-anchor="middle" fill="#5c5c5c" textLength="35.20" lengthAdjust="spacingAndGlyphs">2022/07</text><path d="M272.5 432.300v3.500" stroke="#ccd3df" stroke-width="1"/><text x="272.50" y="444.40" font-size="9.30" text-anchor="middle" fill="#5c5c5c" textLength="35.20" lengthAdjust="spacingAndGlyphs">2023/01</text><path d="M353.9 432.300v3.500" stroke="#ccd3df" stroke-width="1"/><text x="353.90" y="444.40" font-size="9.30" text-anchor="middle" fill="#5c5c5c" textLength="35.20" lengthAdjust="spacingAndGlyphs">2023/07</text><path d="M436.0 432.300v3.500" stroke="#ccd3df" stroke-width="1"/><text x="436.00" y="444.40" font-size="9.30" text-anchor="middle" fill="#5c5c5c" textLength="35.20" lengthAdjust="spacingAndGlyphs">2024/01</text><path d="M517.6 432.300v3.500" stroke="#ccd3df" stroke-width="1"/><text x="517.60" y="444.40" font-size="9.30" text-anchor="middle" fill="#5c5c5c" textLength="35.20" lengthAdjust="spacingAndGlyphs">2024/07</text><path d="M599.8 432.300v3.500" stroke="#ccd3df" stroke-width="1"/><text x="599.80" y="444.40" font-size="9.30" text-anchor="middle" fill="#5c5c5c" textLength="35.20" lengthAdjust="spacingAndGlyphs">2025/01</text><path d="M680.4 432.300v3.500" stroke="#ccd3df" stroke-width="1"/><path d="M107.3 350.4L108.0 351.0L108.7 351.1L109.4 350.5L110.0 350.1L110.7 350.8L111.4 351.4L112.1 352.0L112.8 351.5L113.4 351.9L114.1 353.0L114.8 353.3L115.5 354.3L116.2 354.7L116.8 355.1L117.5 356.2L118.2 358.3L118.9 358.2L119.6 359.0L120.2 359.5L120.9 359.7L121.6 358.6L122.3 357.5L123.0 356.8L123.6 356.1L124.3 356.7L125.0 357.0L125.7 355.8L126.4 354.1L127.0 355.4L127.7 355.1L128.4 356.2L129.1 356.2L129.8 357.3L130.4 357.7L131.1 358.8L131.8 360.6L132.5 360.2L133.2 361.3L133.8 359.5L134.5 358.8L135.2 358.7L135.9 358.2L136.6 358.3L137.2 359.3L137.9 360.0L138.6 361.3L139.3 361.4L140.0 361.6L140.6 360.0L141.3 360.0L142.0 359.3L142.7 357.7L143.4 355.5L144.0 355.1L144.7 353.6L145.4 353.2L146.1 351.9L146.8 350.6L147.4 348.9L148.1 349.2L148.8 349.6L149.5 350.3L150.2 349.7L150.8 350.3L151.5 350.5L152.2 350.6L152.9 350.3L153.6 350.0L154.2 349.7L154.9 349.7L155.6 350.2L156.3 350.1L157.0 350.0L157.6 348.2L158.3 348.9L159.0 350.0L159.7 351.2L160.4 352.3L161.0 353.5L161.7 354.3L162.4 353.3L163.1 353.0L163.8 353.7L164.4 352.8L165.1 353.0L165.8 353.2L166.5 353.9L167.2 356.9L167.8 358.3L168.5 357.6L169.2 356.6L169.9 355.3L170.6 356.0L171.2 358.1L171.9 359.3L172.6 359.8L173.3 359.2L174.0 358.3L174.6 357.8L175.3 356.0L176.0 355.7L176.7 354.9L177.4 353.6L178.0 352.6L178.7 352.4L179.4 351.7L180.1 351.5L180.8 353.0L181.4 354.4L182.1 357.0L182.8 359.1L183.5 360.4L184.2 360.3L184.8 360.7L185.5 360.4L186.2 358.8L186.9 356.8L187.6 355.7L188.2 356.0L188.9 357.4L189.6 357.1L190.3 357.3L191.0 357.3L191.6 356.2L192.3 356.5L193.0 355.0L193.7 354.6L194.4 355.2L195.0 355.6L195.7 355.0L196.4 354.4L197.1 353.0L197.8 352.5L198.4 351.7L199.1 351.8L199.8 352.4L200.5 352.0L201.2 352.2L201.8 351.5L202.5 351.5L203.2 351.8L203.9 351.8L204.6 351.5L205.2 350.5L205.9 350.2L206.6 349.4L207.3 350.3L208.0 349.9L208.6 348.9L209.3 348.1L210.0 347.1L210.7 347.0L211.4 346.3L212.0 346.7L212.7 346.4L213.4 346.6L214.1 346.6L214.8 348.8L215.4 348.8L216.1 348.7L216.8 350.0L217.5 349.7L218.2 351.9L218.8 351.2L219.5 350.4L220.2 349.5L220.9 347.5L221.6 347.1L222.2 345.5L222.9 346.8L223.6 347.0L224.3 348.3L225.0 349.7L225.6 350.4L226.3 350.1L227.0 350.8L227.7 352.6L228.4 353.4L229.0 353.5L229.7 354.3L230.4 354.4L231.1 353.2L231.8 353.4L232.4 354.6L233.1 353.4L233.8 352.9L234.5 352.6L235.2 353.3L235.8 352.5L236.5 352.4L237.2 351.5L237.9 350.9L238.6 351.4L239.2 351.7L239.9 352.0L240.6 351.5L241.3 350.3L242.0 349.2L242.6 348.9L243.3 348.0L244.0 347.1L244.7 346.2L245.4 347.5L246.0 349.1L246.7 349.9L247.4 350.4L248.1 351.0L248.8 350.2L249.4 350.4L250.1 350.9L250.8 350.4L251.5 349.8L252.2 350.8L252.8 350.1L253.5 350.7L254.2 350.1L254.9 350.3L255.6 350.1L256.2 349.1L256.9 350.6L257.6 350.4L258.3 351.0L259.0 351.7L259.6 352.7L260.3 353.2L261.0 353.5L261.7 352.1L262.4 352.2L263.0 351.6L263.7 352.7L264.4 353.5L265.1 354.3L265.8 356.0L266.4 357.3L267.1 358.2L267.8 357.9L268.5 358.1L269.2 357.9L269.8 358.7L270.5 358.7L271.2 358.7L271.9 359.2L272.6 359.3L273.2 359.5L273.9 358.9L274.6 358.3L275.3 357.6L276.0 357.5L276.6 358.1L277.3 357.9L278.0 357.9L278.7 357.6L279.4 357.3L280.0 357.9L280.7 358.5L281.4 358.3L282.1 357.7L282.8 356.7L283.4 356.3L284.1 355.7L284.8 355.3L285.5 355.7L286.2 353.9L286.8 354.0L287.5 353.3L288.2 353.2L288.9 353.3L289.6 353.8L290.2 353.7L290.9 353.6L291.6 352.7L292.3 352.1L293.0 352.9L293.6 353.0L294.3 353.2L295.0 353.6L295.7 354.0L296.4 354.1L297.0 355.2L297.7 354.5L298.4 353.9L299.1 354.4L299.8 353.4L300.4 353.8L301.1 353.4L301.8 352.5L302.5 353.4L303.2 354.8L303.8 357.2L304.5 357.8L305.2 356.8L305.9 357.5L306.6 356.8L307.2 356.7L307.9 356.9L308.6 357.2L309.3 356.8L310.0 356.6L310.6 356.1L311.3 355.9L312.0 355.6L312.7 355.3L313.4 353.9L314.0 353.1L314.7 353.7L315.4 353.7L316.1 354.6L316.8 353.5L317.4 352.5L318.1 353.1L318.8 352.8L319.5 351.7L320.2 351.8L320.8 351.7L321.5 352.2L322.2 352.6L322.9 352.3L323.6 352.2L324.2 351.4L324.9 350.4L325.6 350.5L326.3 350.1L327.0 350.3L327.6 349.9L328.3 351.2L329.0 352.3L329.7 351.2L330.4 351.8L331.0 350.9L331.7 350.9L332.4 350.4L333.1 349.6L333.8 349.2L334.4 348.0L335.1 348.6L335.8 347.4L336.5 347.1L337.2 347.6L337.8 346.5L338.5 346.3L339.2 346.6L339.9 347.0L340.6 346.1L341.2 346.7L341.9 346.8L342.6 346.2L343.3 345.4L344.0 345.1L344.6 344.5L345.3 343.3L346.0 342.9L346.7 342.3L347.4 341.7L348.0 342.1L348.7 341.4L349.4 340.9L350.1 342.1L350.8 341.3L351.4 341.1L352.1 340.7L352.8 340.0L353.5 339.0L354.2 338.9L354.8 340.1L355.5 339.2L356.2 339.9L356.9 341.2L357.6 341.7L358.2 342.2L358.9 342.7L359.6 341.2L360.3 341.2L361.0 341.2L361.6 340.9L362.3 340.7L363.0 339.9L363.7 339.0L364.4 339.0L365.0 339.0L365.7 339.3L366.4 338.9L367.1 337.8L367.8 337.6L368.4 338.0L369.1 339.2L369.8 339.1L370.5 338.7L371.2 338.8L371.8 339.0L372.5 338.7L373.2 338.6L373.9 337.5L374.6 338.3L375.2 338.7L375.9 340.9L376.6 340.1L377.3 339.8L378.0 339.5L378.6 339.4L379.3 337.9L380.0 337.3L380.7 337.5L381.4 336.3L382.0 336.9L382.7 336.4L383.4 336.9L384.1 336.5L384.8 337.6L385.4 336.8L386.1 336.5L386.8 338.1L387.5 337.7L388.2 339.3L388.8 338.4L389.5 338.6L390.2 339.3L390.9 340.5L391.6 339.8L392.2 339.8L392.9 339.9L393.6 339.6L394.3 340.3L395.0 340.4L395.6 340.5L396.3 341.4L397.0 340.9L397.7 340.2L398.4 339.3L399.0 338.4L399.7 339.2L400.4 338.7L401.1 337.9L401.8 339.0L402.4 338.8L403.1 340.1L403.8 341.0L404.5 341.9L405.2 342.4L405.8 342.9L406.5 343.0L407.2 344.0L407.9 344.0L408.6 343.2L409.2 342.6L409.9 341.7L410.6 341.1L411.3 338.5L412.0 339.1L412.6 338.1L413.3 338.7L414.0 337.5L414.7 336.0L415.4 336.7L416.0 336.0L416.7 336.5L417.4 335.3L418.1 335.6L418.8 335.3L419.4 335.3L420.1 335.5L420.8 335.3L421.5 336.6L422.2 336.9L422.8 336.7L423.5 336.6L424.2 337.5L424.9 338.0L425.6 338.1L426.2 337.5L426.9 337.4L427.6 335.8L428.3 335.6L429.0 334.6L429.6 334.8L430.3 334.5L431.0 334.3L431.7 334.3L432.4 335.2L433.0 334.1L433.7 334.1L434.4 335.4L435.1 334.5L435.8 334.1L436.4 335.3L437.1 334.6L437.8 335.2L438.5 333.5L439.2 333.3L439.8 332.3L440.5 332.7L441.2 331.8L441.9 331.8L442.6 331.2L443.2 330.6L443.9 330.8L444.6 330.4L445.3 329.5L446.0 328.6L446.6 328.1L447.3 328.5L448.0 329.2L448.7 327.9L449.4 328.2L450.0 328.7L450.7 327.9L451.4 327.3L452.1 327.0L452.8 327.1L453.4 325.7L454.1 325.1L454.8 324.3L455.5 324.8L456.2 324.4L456.8 323.5L457.5 323.3L458.2 323.6L458.9 323.9L459.6 323.4L460.2 322.9L460.9 322.2L461.6 322.2L462.3 321.8L463.0 322.8L463.6 321.0L464.3 321.2L465.0 321.9L465.7 321.8L466.4 323.3L467.0 323.2L467.7 324.0L468.4 323.3L469.1 321.9L469.8 321.3L470.4 322.0L471.1 320.0L471.8 318.9L472.5 318.8L473.2 318.3L473.8 318.5L474.5 318.0L475.2 318.1L475.9 318.3L476.6 317.3L477.2 317.3L477.9 318.5L478.6 319.0L479.3 320.0L480.0 319.8L480.6 319.0L481.3 318.5L482.0 319.3L482.7 319.2L483.4 320.0L484.0 320.6L484.7 321.4L485.4 322.6L486.1 323.8L486.8 321.6L487.4 322.1L488.1 320.7L488.8 319.8L489.5 320.4L490.2 318.3L490.8 319.1L491.5 319.0L492.2 317.6L492.9 317.7L493.6 317.2L494.2 316.2L494.9 314.6L495.6 315.2L496.3 314.8L497.0 313.9L497.6 315.0L498.3 313.5L499.0 313.6L499.7 313.8L500.4 313.8L501.0 314.0L501.7 314.7L502.4 315.3L503.1 315.3L503.8 315.9L504.4 315.5L505.1 316.1L505.8 314.9L506.5 314.9L507.2 313.9L507.8 313.7L508.5 313.7L509.2 312.6L509.9 314.2L510.6 312.6L511.2 312.4L511.9 312.0L512.6 313.0L513.3 312.5L514.0 311.5L514.6 310.1L515.3 310.0L516.0 310.3L516.7 309.4L517.4 308.7L518.0 308.3L518.7 308.2L519.4 308.3L520.1 307.7L520.8 307.7L521.4 308.8L522.1 308.0L522.8 307.0L523.5 308.0L524.2 307.3L524.8 307.5L525.5 309.4L526.2 310.0L526.9 311.3L527.6 312.5L528.2 313.9L528.9 315.2L529.6 315.5L530.3 315.2L531.0 316.9L531.6 318.6L532.3 321.7L533.0 323.9L533.7 326.3L534.4 326.3L535.0 323.8L535.7 323.4L536.4 321.9L537.1 320.2L537.8 317.4L538.4 317.2L539.1 316.9L539.8 317.5L540.5 318.3L541.2 318.6L541.8 318.1L542.5 317.5L543.2 317.0L543.9 317.8L544.6 318.6L545.2 317.5L545.9 315.4L546.6 317.2L547.3 319.8L548.0 322.3L548.6 323.8L549.3 323.6L550.0 323.6L550.7 322.0L551.4 321.4L552.0 320.8L552.7 319.9L553.4 319.7L554.1 318.8L554.8 318.5L555.4 318.6L556.1 317.8L556.8 317.2L557.5 316.3L558.2 315.6L558.8 316.6L559.5 317.1L560.2 315.3L560.9 315.6L561.6 314.0L562.2 313.7L562.9 312.6L563.6 311.4L564.3 312.5L565.0 310.2L565.6 310.8L566.3 309.5L567.0 309.6L567.7 308.7L568.4 308.7L569.0 309.2L569.7 309.5L570.4 307.8L571.1 307.9L571.8 309.1L572.4 309.0L573.1 310.6L573.8 309.5L574.5 307.7L575.2 305.5L575.8 304.5L576.5 303.3L577.2 302.0L577.9 302.7L578.6 301.2L579.2 302.7L579.9 304.4L580.6 304.3L581.3 303.3L582.0 303.9L582.6 303.0L583.3 301.9L584.0 302.8L584.7 304.7L585.4 304.4L586.0 304.4L586.7 304.0L587.4 303.0L588.1 303.5L588.8 303.7L589.4 303.4L590.1 302.9L590.8 301.6L591.5 303.3L592.2 302.8L592.8 302.7L593.5 302.7L594.2 303.3L594.9 304.3L595.6 303.6L596.2 303.2L596.9 300.4L597.6 300.3L598.3 300.0L599.0 301.0L599.6 301.7L600.3 301.1L601.0 300.9L601.7 301.6L602.4 301.5L603.0 300.9L603.7 302.6L604.4 302.2L605.1 303.3L605.8 302.7L606.4 304.0L607.1 302.0L607.8 302.9L608.5 300.3L609.2 301.1L609.8 299.2L610.5 297.7L611.2 299.1L611.9 300.1L612.6 299.7L613.2 300.3L613.9 301.1L614.6 301.2L615.3 300.0L616.0 302.3L616.6 303.6L617.3 303.6L618.0 303.7L618.7 302.5L619.4 304.1L620.0 302.9L620.7 302.9L621.4 303.7L622.1 304.2L622.8 304.9L623.4 305.8L624.1 307.7L624.8 308.3L625.5 308.0L626.2 309.3L626.8 311.0L627.5 311.8L628.2 312.9L628.9 314.4L629.6 315.7L630.2 317.7L630.9 317.8L631.6 318.2L632.3 318.6L633.0 317.6L633.6 316.5L634.3 316.2L635.0 314.5L635.7 314.6L636.4 313.3L637.0 311.8L637.7 312.0L638.4 313.7L639.1 314.1L639.8 314.9L640.4 314.3L641.1 315.0L641.8 317.9L642.5 322.7L643.2 328.3L643.8 331.2L644.5 328.4L645.2 323.2L645.9 325.3L646.6 325.9L647.2 326.0L647.9 328.8L648.6 329.0L649.3 330.5L650.0 331.8L650.6 327.6L651.3 324.2L652.0 323.5L652.7 322.1L653.4 320.9L654.0 321.3L654.7 321.0L655.4 320.3L656.1 320.5L656.8 320.1L657.4 318.2L658.1 316.2L658.8 314.0L659.5 312.9L660.2 312.9L660.8 312.5L661.5 313.5L662.2 314.3L662.9 313.5L663.6 314.7L664.2 314.7L664.9 317.0L665.6 317.9L666.3 316.8L667.0 315.0L667.6 314.3L668.3 314.7L669.0 314.8L669.7 313.6L670.4 313.7L671.0 312.8L671.7 313.0L672.4 311.8L673.1 312.0L673.8 311.7L674.4 312.3L675.1 312.0L675.8 311.2L676.5 311.2L677.2 311.5L677.8 311.4L678.5 309.9L679.2 310.1L679.9 309.6L680.6 308.9L681.2 307.3L681.9 307.8L682.6 306.4L683.3 306.9L684.0 306.3L684.6 305.8L685.3 303.7L686.0 305.2L686.7 304.9L687.4 303.3L688.0 304.0L688.7 303.2L689.4 302.9L690.1 302.8L690.8 303.0L691.4 302.7L692.1 304.1L692.8 302.1L693.5 301.8L694.2 300.7L694.8 300.0L695.5 301.9L696.2 303.9L696.9 304.8L697.6 303.8L698.2 303.8L698.9 302.0L699.6 302.7L700.3 301.8L701.0 301.9L701.6 301.1L702.3 300.3L703.0 301.6L703.7 300.9L704.4 301.1L705.0 300.5L705.7 300.9L706.4 300.4L707.1 300.5L707.8 300.4L708.4 299.7L709.1 299.1L709.8 299.8L710.5 299.8L711.2 299.4L711.8 298.1L712.5 298.9L713.2 298.5L713.9 298.2L714.6 298.1L715.2 297.4L715.9 297.5L716.6 297.7L717.3 296.7L718.0 295.7L718.6 296.0L719.3 296.0L720.0 295.0L720.7 295.9L721.4 296.4L722.0 295.8L722.7 295.6L723.4 294.3L724.1 295.1L724.8 294.1L725.4 291.3L726.1 289.4L726.8 289.5L727.5 291.5L728.2 292.3L728.8 292.8L729.5 294.9L730.2 294.7L730.9 293.7L731.6 291.3L732.2 291.3L732.9 290.6L733.6 288.5L734.3 288.9L735.0 288.6L735.6 287.9L736.3 286.5L737.0 286.1L737.7 287.4L738.4 288.6L739.0 289.8L739.7 290.8L740.4 289.1L741.1 287.5L741.8 287.1L742.4 289.7L743.1 291.3L743.8 290.1L744.5 290.4L745.2 290.8L745.8 289.8L746.5 287.7L747.2 286.8L747.9 285.5L748.6 286.6L749.2 284.5L749.9 285.2L750.6 286.8L751.2 287.5" fill="none" stroke="#b5453f" stroke-width="1.4" stroke-linejoin="round" stroke-linecap="round"/><path d="M107.3 349.3L108.0 350.0L108.7 350.2L109.4 349.4L110.0 349.0L110.7 349.8L111.4 350.4L112.1 351.1L112.8 350.5L113.4 350.8L114.1 352.0L114.8 352.3L115.5 353.3L116.2 353.7L116.8 354.1L117.5 355.1L118.2 357.4L118.9 357.1L119.6 357.9L120.2 358.3L120.9 358.6L121.6 357.5L122.3 356.4L123.0 355.7L123.6 355.0L124.3 355.7L125.0 355.9L125.7 354.7L126.4 352.9L127.0 354.3L127.7 354.0L128.4 355.0L129.1 355.0L129.8 356.2L130.4 356.5L131.1 357.6L131.8 359.6L132.5 359.1L133.2 360.2L133.8 358.3L134.5 357.7L135.2 357.5L135.9 357.0L136.6 357.2L137.2 358.2L137.9 358.8L138.6 360.2L139.3 360.2L140.0 360.5L140.6 358.8L141.3 358.9L142.0 358.1L142.7 356.5L143.4 354.3L144.0 353.9L144.7 352.4L145.4 352.0L146.1 350.7L146.8 349.4L147.4 347.7L148.1 348.0L148.8 348.3L149.5 349.1L150.2 348.4L150.8 349.0L151.5 349.2L152.2 349.3L152.9 349.1L153.6 348.8L154.2 348.4L154.9 348.4L155.6 348.9L156.3 348.9L157.0 348.8L157.6 347.0L158.3 347.7L159.0 348.7L159.7 349.9L160.4 350.9L161.0 352.2L161.7 353.1L162.4 352.0L163.1 351.6L163.8 352.5L164.4 351.5L165.1 351.8L165.8 351.9L166.5 352.5L167.2 355.7L167.8 357.0L168.5 356.2L169.2 355.3L169.9 353.9L170.6 354.6L171.2 356.7L171.9 357.9L172.6 358.4L173.3 357.9L174.0 356.9L174.6 356.4L175.3 354.6L176.0 354.3L176.7 353.6L177.4 352.2L178.0 351.1L178.7 350.9L179.4 350.2L180.1 350.1L180.8 351.6L181.4 352.9L182.1 355.5L182.8 357.7L183.5 358.9L184.2 358.7L184.8 359.3L185.5 359.0L186.2 357.3L186.9 355.3L187.6 354.2L188.2 354.5L188.9 356.0L189.6 355.6L190.3 355.7L191.0 355.9L191.6 354.7L192.3 355.0L193.0 353.4L193.7 353.0L194.4 353.7L195.0 354.1L195.7 353.5L196.4 352.9L197.1 351.3L197.8 350.9L198.4 350.1L199.1 350.2L199.8 350.9L200.5 350.4L201.2 350.6L201.8 349.9L202.5 349.9L203.2 350.2L203.9 350.2L204.6 349.9L205.2 348.8L205.9 348.6L206.6 347.7L207.3 348.7L208.0 348.3L208.6 347.2L209.3 346.4L210.0 345.4L210.7 345.3L211.4 344.7L212.0 345.2L212.7 344.8L213.4 344.9L214.1 344.8L214.8 347.2L215.4 347.2L216.1 346.9L216.8 348.3L217.5 347.9L218.2 350.4L218.8 349.6L219.5 348.7L220.2 347.8L220.9 345.6L221.6 345.4L222.2 343.7L222.9 345.1L223.6 345.1L224.3 346.5L225.0 348.0L225.6 348.8L226.3 348.3L227.0 349.0L227.7 350.9L228.4 351.7L229.0 351.7L229.7 352.5L230.4 352.6L231.1 351.4L231.8 351.6L232.4 352.9L233.1 351.7L233.8 351.2L234.5 350.8L235.2 351.5L235.8 350.6L236.5 350.6L237.2 349.6L237.9 348.9L238.6 349.6L239.2 350.0L239.9 350.2L240.6 349.8L241.3 348.5L242.0 347.3L242.6 346.9L243.3 346.1L244.0 345.0L244.7 344.2L245.4 345.4L246.0 347.1L246.7 347.9L247.4 348.3L248.1 349.0L248.8 348.1L249.4 348.3L250.1 348.8L250.8 348.2L251.5 347.5L252.2 348.6L252.8 347.8L253.5 348.5L254.2 347.9L254.9 348.0L255.6 347.8L256.2 346.7L256.9 348.3L257.6 348.0L258.3 348.5L259.0 349.2L259.6 350.3L260.3 350.8L261.0 351.1L261.7 349.5L262.4 349.7L263.0 349.0L263.7 350.1L264.4 351.0L265.1 351.7L265.8 353.4L266.4 354.6L267.1 355.6L267.8 355.1L268.5 355.3L269.2 355.1L269.8 356.0L270.5 356.0L271.2 355.9L271.9 356.4L272.6 356.5L273.2 356.6L273.9 356.0L274.6 355.4L275.3 354.6L276.0 354.5L276.6 355.3L277.3 354.9L278.0 354.9L278.7 354.5L279.4 354.2L280.0 354.8L280.7 355.4L281.4 355.2L282.1 354.5L282.8 353.5L283.4 353.0L284.1 352.4L284.8 352.0L285.5 352.4L286.2 350.5L286.8 350.7L287.5 349.9L288.2 349.8L288.9 350.0L289.6 350.5L290.2 350.3L290.9 350.2L291.6 349.2L292.3 348.7L293.0 349.4L293.6 349.4L294.3 349.6L295.0 350.0L295.7 350.4L296.4 350.4L297.0 351.6L297.7 350.9L298.4 350.2L299.1 350.8L299.8 349.7L300.4 350.1L301.1 349.7L301.8 348.6L302.5 349.5L303.2 350.9L303.8 353.4L304.5 354.0L305.2 352.8L305.9 353.6L306.6 352.9L307.2 352.8L307.9 352.9L308.6 353.2L309.3 352.6L310.0 352.5L310.6 351.9L311.3 351.8L312.0 351.7L312.7 351.3L313.4 349.7L314.0 348.8L314.7 349.5L315.4 349.4L316.1 350.5L316.8 349.3L317.4 348.2L318.1 348.8L318.8 348.5L319.5 347.3L320.2 347.4L320.8 347.3L321.5 347.8L322.2 348.2L322.9 347.8L323.6 347.7L324.2 346.9L324.9 345.9L325.6 346.1L326.3 345.6L327.0 345.8L327.6 345.2L328.3 346.6L329.0 347.7L329.7 346.5L330.4 347.2L331.0 346.2L331.7 346.2L332.4 345.6L333.1 344.9L333.8 344.5L334.4 343.2L335.1 343.9L335.8 342.5L336.5 342.2L337.2 342.8L337.8 341.6L338.5 341.4L339.2 341.7L339.9 342.1L340.6 341.0L341.2 341.8L341.9 341.9L342.6 341.2L343.3 340.3L344.0 340.0L344.6 339.4L345.3 338.1L346.0 337.8L346.7 337.2L347.4 336.5L348.0 337.0L348.7 336.2L349.4 335.6L350.1 337.0L350.8 336.0L351.4 335.8L352.1 335.4L352.8 334.6L353.5 333.6L354.2 333.5L354.8 334.9L355.5 333.7L356.2 334.5L356.9 335.8L357.6 336.3L358.2 336.7L358.9 337.3L359.6 335.5L360.3 335.6L361.0 335.6L361.6 335.3L362.3 335.2L363.0 334.3L363.7 333.4L364.4 333.3L365.0 333.3L365.7 333.7L366.4 333.2L367.1 332.0L367.8 331.7L368.4 332.1L369.1 333.4L369.8 333.3L370.5 333.0L371.2 333.0L371.8 333.2L372.5 332.8L373.2 332.7L373.9 331.4L374.6 332.3L375.2 332.7L375.9 334.8L376.6 333.9L377.3 333.7L378.0 333.6L378.6 333.6L379.3 332.0L380.0 331.2L380.7 331.5L381.4 330.3L382.0 331.3L382.7 331.0L383.4 331.3L384.1 330.6L384.8 331.7L385.4 330.8L386.1 330.2L386.8 331.6L387.5 330.7L388.2 332.6L388.8 331.7L389.5 331.9L390.2 332.5L390.9 333.7L391.6 333.0L392.2 333.4L392.9 333.6L393.6 333.0L394.3 333.6L395.0 333.7L395.6 333.8L396.3 334.7L397.0 334.1L397.7 333.2L398.4 332.2L399.0 331.1L399.7 332.1L400.4 331.6L401.1 330.8L401.8 331.9L402.4 331.5L403.1 332.9L403.8 333.7L404.5 334.4L405.2 334.8L405.8 335.2L406.5 335.4L407.2 336.7L407.9 336.8L408.6 335.9L409.2 335.1L409.9 334.3L410.6 333.8L411.3 330.8L412.0 331.6L412.6 330.6L413.3 331.2L414.0 329.8L414.7 327.9L415.4 328.5L416.0 327.6L416.7 328.2L417.4 326.9L418.1 327.2L418.8 327.0L419.4 327.0L420.1 327.1L420.8 326.9L421.5 328.3L422.2 328.7L422.8 328.3L423.5 328.2L424.2 329.2L424.9 329.9L425.6 330.1L426.2 329.6L426.9 329.7L427.6 328.1L428.3 328.0L429.0 327.0L429.6 327.3L430.3 327.1L431.0 327.2L431.7 327.5L432.4 328.5L433.0 327.0L433.7 326.9L434.4 328.4L435.1 327.4L435.8 326.7L436.4 328.0L437.1 327.2L437.8 328.2L438.5 326.2L439.2 326.1L439.8 325.1L440.5 325.5L441.2 324.4L441.9 324.4L442.6 323.6L443.2 322.8L443.9 323.1L444.6 322.7L445.3 321.8L446.0 320.8L446.6 320.2L447.3 320.7L448.0 321.7L448.7 320.2L449.4 320.4L450.0 320.9L450.7 319.8L451.4 319.0L452.1 318.6L452.8 318.9L453.4 317.4L454.1 316.8L454.8 315.8L455.5 316.5L456.2 316.0L456.8 315.1L457.5 315.4L458.2 316.2L458.9 316.5L459.6 315.7L460.2 314.9L460.9 314.1L461.6 313.9L462.3 313.5L463.0 314.6L463.6 312.6L464.3 312.9L465.0 313.7L465.7 313.2L466.4 314.7L467.0 314.4L467.7 315.2L468.4 314.4L469.1 313.0L469.8 312.2L470.4 313.1L471.1 310.8L471.8 309.4L472.5 309.4L473.2 309.0L473.8 309.4L474.5 308.8L475.2 308.9L475.9 309.3L476.6 308.1L477.2 307.9L477.9 309.1L478.6 309.4L479.3 310.6L480.0 310.3L480.6 309.3L481.3 308.9L482.0 309.8L482.7 309.4L483.4 310.0L484.0 310.6L484.7 311.5L485.4 312.6L486.1 313.6L486.8 311.0L487.4 311.7L488.1 310.2L488.8 309.3L489.5 310.3L490.2 308.2L490.8 309.3L491.5 309.1L492.2 307.5L492.9 307.7L493.6 307.2L494.2 306.0L494.9 303.9L495.6 304.7L496.3 304.3L497.0 303.3L497.6 304.8L498.3 303.1L499.0 302.9L499.7 302.8L500.4 302.3L501.0 302.1L501.7 302.5L502.4 303.0L503.1 302.8L503.8 303.5L504.4 303.2L505.1 303.9L505.8 302.5L506.5 302.6L507.2 301.3L507.8 300.9L508.5 300.7L509.2 299.1L509.9 300.8L510.6 298.5L511.2 297.9L511.9 297.0L512.6 298.1L513.3 297.5L514.0 296.2L514.6 294.6L515.3 294.6L516.0 295.0L516.7 293.9L517.4 293.1L518.0 292.6L518.7 292.4L519.4 292.5L520.1 291.7L520.8 291.5L521.4 292.7L522.1 291.7L522.8 290.9L523.5 292.6L524.2 292.2L524.8 292.5L525.5 294.6L526.2 295.0L526.9 296.2L527.6 297.7L528.2 299.4L528.9 301.3L529.6 301.9L530.3 301.2L531.0 303.2L531.6 305.1L532.3 308.6L533.0 311.3L533.7 314.1L534.4 314.2L535.0 311.2L535.7 310.7L536.4 308.7L537.1 307.0L537.8 303.9L538.4 303.9L539.1 303.7L539.8 304.4L540.5 305.4L541.2 305.8L541.8 305.2L542.5 304.4L543.2 303.8L543.9 304.7L544.6 305.5L545.2 304.2L545.9 302.1L546.6 304.5L547.3 307.7L548.0 310.1L548.6 311.5L549.3 311.3L550.0 311.3L550.7 309.3L551.4 308.5L552.0 307.7L552.7 306.5L553.4 306.4L554.1 305.4L554.8 305.2L555.4 305.2L556.1 304.1L556.8 303.4L557.5 302.5L558.2 301.7L558.8 302.9L559.5 303.5L560.2 301.3L560.9 301.5L561.6 299.6L562.2 299.4L562.9 298.2L563.6 296.8L564.3 298.1L565.0 295.4L565.6 296.3L566.3 294.8L567.0 295.1L567.7 294.1L568.4 294.0L569.0 294.5L569.7 294.8L570.4 292.7L571.1 293.0L571.8 294.3L572.4 293.9L573.1 295.7L573.8 294.5L574.5 292.8L575.2 290.6L575.8 289.6L576.5 288.2L577.2 286.6L577.9 287.3L578.6 285.4L579.2 286.8L579.9 288.5L580.6 288.2L581.3 287.0L582.0 287.8L582.6 287.5L583.3 287.0L584.0 288.3L584.7 290.5L585.4 290.0L586.0 290.1L586.7 289.5L587.4 288.2L588.1 288.6L588.8 288.8L589.4 288.4L590.1 287.9L590.8 286.2L591.5 288.1L592.2 287.3L592.8 287.0L593.5 286.7L594.2 286.4L594.9 286.8L595.6 286.1L596.2 285.9L596.9 282.5L597.6 282.5L598.3 282.2L599.0 283.5L599.6 284.5L600.3 283.8L601.0 283.7L601.7 284.5L602.4 284.0L603.0 283.3L603.7 285.5L604.4 285.0L605.1 286.5L605.8 285.8L606.4 287.6L607.1 285.5L607.8 286.9L608.5 283.8L609.2 284.9L609.8 282.7L610.5 280.9L611.2 282.5L611.9 283.5L612.6 283.2L613.2 284.0L613.9 285.0L614.6 284.9L615.3 283.3L616.0 286.0L616.6 287.5L617.3 287.4L618.0 287.4L618.7 285.8L619.4 287.8L620.0 286.4L620.7 286.2L621.4 286.9L622.1 287.3L622.8 287.9L623.4 288.6L624.1 290.8L624.8 291.6L625.5 291.0L626.2 292.2L626.8 293.9L627.5 294.6L628.2 295.6L628.9 297.2L629.6 298.9L630.2 301.6L630.9 301.8L631.6 302.8L632.3 303.6L633.0 302.4L633.6 301.1L634.3 300.7L635.0 298.5L635.7 298.5L636.4 296.9L637.0 295.0L637.7 295.1L638.4 297.2L639.1 297.9L639.8 298.7L640.4 297.9L641.1 298.7L641.8 301.9L642.5 306.9L643.2 312.7L643.8 316.5L644.5 313.7L645.2 307.9L645.9 311.2L646.6 311.6L647.2 311.5L647.9 314.9L648.6 315.2L649.3 317.2L650.0 318.9L650.6 313.3L651.3 309.2L652.0 309.0L652.7 307.9L653.4 307.0L654.0 306.3L654.7 304.9L655.4 304.1L656.1 304.3L656.8 303.9L657.4 301.8L658.1 299.8L658.8 297.4L659.5 296.3L660.2 296.4L660.8 296.0L661.5 297.0L662.2 297.8L662.9 296.4L663.6 297.6L664.2 297.7L664.9 300.6L665.6 301.8L666.3 300.5L667.0 298.3L667.6 297.3L668.3 297.5L669.0 297.9L669.7 296.5L670.4 296.8L671.0 295.6L671.7 295.9L672.4 294.6L673.1 295.0L673.8 294.7L674.4 295.3L675.1 294.8L675.8 293.9L676.5 294.0L677.2 294.4L677.8 294.3L678.5 292.5L679.2 292.6L679.9 291.9L680.6 291.1L681.2 289.2L681.9 289.9L682.6 288.5L683.3 289.4L684.0 288.9L684.6 288.5L685.3 285.9L686.0 287.5L686.7 287.1L687.4 285.1L688.0 286.2L688.7 285.1L689.4 284.6L690.1 284.8L690.8 285.6L691.4 285.2L692.1 287.0L692.8 284.4L693.5 283.9L694.2 282.5L694.8 281.6L695.5 283.3L696.2 285.0L696.9 286.1L697.6 285.0L698.2 285.1L698.9 283.0L699.6 283.9L700.3 282.8L701.0 282.8L701.6 281.8L702.3 280.7L703.0 282.4L703.7 281.5L704.4 281.8L705.0 281.1L705.7 281.8L706.4 281.2L707.1 281.6L707.8 281.4L708.4 280.5L709.1 279.8L709.8 280.9L710.5 281.0L711.2 280.7L711.8 279.3L712.5 280.3L713.2 279.6L713.9 279.0L714.6 278.8L715.2 277.9L715.9 278.0L716.6 278.1L717.3 276.7L718.0 275.5L718.6 276.0L719.3 276.0L720.0 274.7L720.7 275.8L721.4 276.4L722.0 275.4L722.7 275.1L723.4 273.4L724.1 274.3L724.8 273.3L725.4 270.1L726.1 268.0L726.8 268.3L727.5 270.8L728.2 271.4L728.8 271.9L729.5 274.5L730.2 274.3L730.9 273.4L731.6 270.6L732.2 270.7L732.9 270.1L733.6 267.4L734.3 267.8L735.0 267.4L735.6 266.6L736.3 264.7L737.0 264.3L737.7 265.9L738.4 267.1L739.0 268.3L739.7 269.3L740.4 267.3L741.1 265.3L741.8 264.7L742.4 267.7L743.1 269.6L743.8 268.1L744.5 268.5L745.2 269.3L745.8 268.2L746.5 265.7L747.2 264.8L747.9 263.4L748.6 264.9L749.2 262.3L749.9 263.2L750.6 264.6L751.2 265.1" fill="none" stroke="#2273d9" stroke-width="1.8" stroke-linejoin="round" stroke-linecap="round"/></svg>

<!-- close link bar -->
<div class="a" style="left:6px;top:458px;width:802px;height:24px;background:#f5f7fa"></div>
<svg class="a" style="left:316px;top:462.700px" width="16" height="16" viewBox="0 0 16 16"><circle cx="8" cy="7.600" r="7.400" fill="#6686cd"/><rect x="3.800" y="6.500" width="8.400" height="2.300" rx="0.500" fill="#fff"/></svg>
<div class="a" style="left:338.300px;top:461.800px;font-size:11.9px;line-height:16px;color:#24428f;white-space:nowrap">基準価額のチャートを閉じる</div>

<!-- section header -->
<div class="a" style="left:6px;top:483px;width:802px;height:23px;background:#00339d;color:#fff;font-size:13.4px;line-height:23px;padding-left:9px">お客様の投資状況</div>

<!-- chart 2 -->
<div class="box" style="top:508px;height:458px"></div>
<div class="lg" style="left:48px;top:517px;width:170px;height:27px"></div>
<div class="lg" style="left:48px;top:707px;width:592px;height:27px"></div>
<svg class="a" style="left:0;top:0" width="817" height="1090" viewBox="0 0 817 1090"><defs><linearGradient id="sb" x1="0" y1="0" x2="0" y2="1"><stop offset="0" stop-color="#f4f4f4"/><stop offset=".45" stop-color="#fdfdfd"/><stop offset="1" stop-color="#dcdcdc"/></linearGradient><linearGradient id="sbt" x1="0" y1="0" x2="0" y2="1"><stop offset="0" stop-color="#f6f6f6"/><stop offset=".5" stop-color="#ffffff"/><stop offset="1" stop-color="#e4e4e4"/></linearGradient><linearGradient id="sbb" x1="0" y1="0" x2="0" y2="1"><stop offset="0" stop-color="#f6f6f6"/><stop offset="1" stop-color="#d8d8d8"/></linearGradient></defs><path d="M57.500 527.500h17" stroke="#2a9bd0" stroke-width="2.600"/><text x="83.20" y="535.20" font-size="12.60" fill="#222">トータルリターン</text><path d="M107.5 565.6H757.5" stroke="#cfcfcf" stroke-width="1"/><text x="88.90" y="569.90" font-size="9.30" text-anchor="end" fill="#5c5c5c" textLength="33.19" lengthAdjust="spacingAndGlyphs">400,000</text><text x="90.80" y="570.20" font-size="10.20" fill="#666">円</text><path d="M107.5 606.2H757.5" stroke="#cfcfcf" stroke-width="1"/><text x="88.90" y="610.50" font-size="9.30" text-anchor="end" fill="#5c5c5c" textLength="33.19" lengthAdjust="spacingAndGlyphs">200,000</text><text x="90.80" y="610.80" font-size="10.20" fill="#666">円</text><path d="M107.5 645.2H757.5" stroke="#cfcfcf" stroke-width="1"/><text x="88.90" y="649.50" font-size="9.30" text-anchor="end" fill="#5c5c5c" textLength="5.23" lengthAdjust="spacingAndGlyphs">0</text><text x="90.80" y="649.80" font-size="10.20" fill="#666">円</text><path d="M107.5 684.6H757.5" stroke="#cfcfcf" stroke-width="1"/><text x="88.90" y="688.90" font-size="9.30" text-anchor="end" fill="#5c5c5c" textLength="35.76" lengthAdjust="spacingAndGlyphs">-200,000</text><text x="90.80" y="689.20" font-size="10.20" fill="#666">円</text><path d="M113.3 645.0L114.0 644.8L114.7 644.9L115.4 644.9L116.0 644.8L116.7 644.8L117.4 644.8L118.1 644.9L118.8 644.9L119.4 645.0L120.1 644.9L120.8 645.0L121.5 644.9L122.2 644.9L122.8 644.9L123.5 644.8L124.2 644.8L124.9 644.9L125.6 644.9L126.2 644.9L126.9 644.9L127.6 644.8L128.3 644.8L129.0 644.8L129.6 645.0L130.3 644.9L131.0 644.9L131.7 644.8L132.4 644.8L133.0 644.8L133.7 644.9L134.4 644.9L135.1 644.8L135.8 644.9L136.4 644.8L137.1 644.8L137.8 644.8L138.5 644.7L139.2 644.7L139.8 644.7L140.5 644.6L141.2 644.4L141.9 644.4L142.6 644.4L143.2 644.3L143.9 644.2L144.6 644.0L145.3 644.0L146.0 644.0L146.6 644.0L147.3 643.9L148.0 644.0L148.7 643.9L149.4 643.9L150.0 644.0L150.7 644.0L151.4 644.0L152.1 643.9L152.8 644.1L153.4 644.0L154.1 643.9L154.8 644.1L155.5 644.0L156.2 644.1L156.8 644.3L157.5 644.4L158.2 644.3L158.9 644.3L159.6 644.5L160.2 644.4L160.9 644.3L161.6 644.2L162.3 644.5L163.0 644.3L163.6 644.3L164.3 644.5L165.0 644.6L165.7 644.6L166.4 644.7L167.0 644.7L167.7 644.7L168.4 644.8L169.1 644.8L169.8 644.8L170.4 645.0L171.1 644.8L171.8 644.8L172.5 644.8L173.2 644.7L173.8 644.7L174.5 644.5L175.2 644.5L175.9 644.5L176.6 644.6L177.2 644.5L177.9 644.3L178.6 644.3L179.3 644.4L180.0 644.3L180.6 644.1L181.3 644.2L182.0 644.2L182.7 644.2L183.4 644.2L184.0 644.3L184.7 644.3L185.4 644.4L186.1 644.5L186.8 644.4L187.4 644.3L188.1 644.3L188.8 644.4L189.5 644.6L190.2 644.6L190.8 644.5L191.5 644.6L192.2 644.5L192.9 644.4L193.6 644.5L194.2 644.4L194.9 644.3L195.6 644.3L196.3 644.4L197.0 644.4L197.6 644.2L198.3 644.3L199.0 644.3L199.7 644.2L200.4 644.1L201.0 644.3L201.7 644.3L202.4 644.3L203.1 644.2L203.8 644.2L204.4 644.1L205.1 644.1L205.8 644.0L206.5 644.0L207.2 644.0L207.8 643.9L208.5 643.9L209.2 643.8L209.9 643.8L210.6 643.9L211.2 643.9L211.9 644.1L212.6 644.1L213.3 644.1L214.0 644.1L214.6 644.0L215.3 644.1L216.0 644.0L216.7 644.0L217.4 644.1L218.0 644.1L218.7 644.2L219.4 644.1L220.1 644.4L220.8 644.2L221.4 644.3L222.1 644.1L222.8 644.3L223.5 644.1L224.2 644.2L224.8 644.2L225.5 644.3L226.2 644.3L226.9 644.2L227.6 644.2L228.2 644.4L228.9 644.2L229.6 644.2L230.3 644.2L231.0 644.2L231.6 644.1L232.3 644.2L233.0 644.3L233.7 644.2L234.4 644.2L235.0 644.2L235.7 644.3L236.4 644.2L237.1 644.3L237.8 644.2L238.4 644.0L239.1 644.0L239.8 643.9L240.5 643.8L241.2 643.7L241.8 643.6L242.5 643.3L243.2 643.4L243.9 643.2L244.6 643.3L245.2 643.5L245.9 643.4L246.6 643.6L247.3 643.7L248.0 643.7L248.6 643.7L249.3 643.9L250.0 643.8L250.7 644.0L251.4 644.0L252.0 643.8L252.7 643.9L253.4 643.8L254.1 643.8L254.8 643.9L255.4 643.8L256.1 643.8L256.8 643.8L257.5 644.0L258.2 644.1L258.8 644.3L259.5 644.3L260.2 644.4L260.9 644.7L261.6 644.7L262.2 644.6L262.9 645.6L263.6 645.2L264.3 645.5L265.0 646.8L265.6 646.8L266.3 646.8L267.0 648.4L267.7 650.6L268.4 651.2L269.0 649.9L269.7 650.5L270.4 650.6L271.1 650.5L271.8 649.6L272.4 650.8L273.1 650.1L273.8 649.6L274.5 648.6L275.2 648.7L275.8 648.9L276.5 649.1L277.2 649.5L277.9 649.4L278.6 650.2L279.2 649.8L279.9 648.5L280.6 648.3L281.3 648.3L282.0 647.4L282.6 648.0L283.3 646.9L284.0 647.1L284.7 647.0L285.4 646.0L286.0 646.8L286.7 645.8L287.4 645.2L288.1 644.9L288.8 644.1L289.4 644.1L290.1 645.3L290.8 644.4L291.5 644.2L292.2 644.3L292.8 644.8L293.5 644.4L294.2 644.9L294.9 645.4L295.6 645.9L296.2 645.3L296.9 645.7L297.6 644.6L298.3 644.2L299.0 643.7L299.6 644.5L300.3 645.1L301.0 645.0L301.7 645.3L302.4 645.3L303.0 646.0L303.7 646.6L304.4 647.4L305.1 648.4L305.8 648.3L306.4 648.4L307.1 648.4L307.8 647.5L308.5 648.2L309.2 647.8L309.8 647.6L310.5 648.3L311.2 648.6L311.9 647.1L312.6 648.0L313.2 646.1L313.9 645.9L314.6 644.8L315.3 645.3L316.0 645.2L316.6 644.6L317.3 644.8L318.0 644.4L318.7 644.2L319.4 643.2L320.0 643.6L320.7 643.0L321.4 642.5L322.1 641.7L322.8 642.4L323.4 642.1L324.1 643.4L324.8 642.0L325.5 643.4L326.2 643.5L326.8 643.3L327.5 643.1L328.2 642.8L328.9 641.6L329.6 642.6L330.2 641.4L330.9 641.3L331.6 641.8L332.3 640.7L333.0 641.4L333.6 641.7L334.3 641.0L335.0 641.5L335.7 641.5L336.4 640.3L337.0 639.7L337.7 639.7L338.4 638.9L339.1 638.9L339.8 638.7L340.4 638.0L341.1 637.6L341.8 637.5L342.5 637.2L343.2 637.1L343.8 635.8L344.5 635.8L345.2 635.9L345.9 636.1L346.6 635.1L347.2 636.0L347.9 635.8L348.6 634.6L349.3 635.1L350.0 633.4L350.6 634.1L351.3 633.2L352.0 634.2L352.7 633.9L353.4 633.5L354.0 633.0L354.7 633.0L355.4 633.9L356.1 633.7L356.8 634.4L357.4 633.2L358.1 633.7L358.8 633.3L359.5 631.7L360.2 631.7L360.8 632.0L361.5 632.3L362.2 632.0L362.9 633.0L363.6 632.6L364.2 632.7L364.9 631.5L365.6 631.3L366.3 631.7L367.0 630.1L367.6 631.1L368.3 632.0L369.0 632.0L369.7 631.3L370.4 633.2L371.0 631.8L371.7 632.3L372.4 632.2L373.1 631.5L373.8 631.9L374.4 630.7L375.1 632.4L375.8 632.8L376.5 632.4L377.2 632.1L377.8 632.0L378.5 631.5L379.2 630.5L379.9 630.8L380.6 630.6L381.2 629.9L381.9 629.8L382.6 628.4L383.3 628.7L384.0 629.6L384.6 628.9L385.3 630.1L386.0 630.4L386.7 629.3L387.4 629.1L388.0 629.4L388.7 629.7L389.4 630.6L390.1 630.8L390.8 631.6L391.4 631.5L392.1 632.2L392.8 631.9L393.5 632.8L394.2 632.8L394.8 631.9L395.5 632.9L396.2 632.2L396.9 632.6L397.6 631.3L398.2 631.8L398.9 631.4L399.6 631.6L400.3 630.7L401.0 630.4L401.6 631.4L402.3 630.9L403.0 632.0L403.7 632.4L404.4 633.0L405.0 632.9L405.7 633.4L406.4 633.8L407.1 635.6L407.8 635.1L408.4 634.7L409.1 633.5L409.8 632.6L410.5 632.5L411.2 630.1L411.8 630.2L412.5 629.2L413.2 628.4L413.9 627.4L414.6 626.8L415.2 626.7L415.9 627.6L416.6 626.7L417.3 626.7L418.0 627.1L418.6 627.7L419.3 628.2L420.0 627.9L420.7 627.7L421.4 627.8L422.0 627.0L422.7 627.8L423.4 628.8L424.1 628.2L424.8 628.4L425.4 627.9L426.1 628.3L426.8 628.3L427.5 627.6L428.2 627.5L428.8 628.0L429.5 627.4L430.2 627.6L430.9 626.9L431.6 627.6L432.2 627.3L432.9 626.9L433.6 626.9L434.3 628.4L435.0 626.9L435.6 626.9L436.3 626.2L437.0 627.7L437.7 627.1L438.4 626.7L439.0 625.7L439.7 626.1L440.4 625.2L441.1 624.6L441.8 624.5L442.4 624.3L443.1 623.7L443.8 623.2L444.5 623.3L445.2 622.8L445.8 622.2L446.5 622.4L447.2 622.0L447.9 621.8L448.6 621.4L449.2 620.9L449.9 620.4L450.6 622.1L451.3 621.8L452.0 620.3L452.6 620.2L453.3 618.8L454.0 617.9L454.7 618.0L455.4 617.1L456.0 617.8L456.7 616.6L457.4 617.7L458.1 616.6L458.8 616.7L459.4 617.1L460.1 616.5L460.8 615.4L461.5 615.8L462.2 614.7L462.8 615.5L463.5 614.5L464.2 615.5L464.9 616.0L465.6 615.9L466.2 616.9L466.9 617.4L467.6 616.0L468.3 615.9L469.0 616.0L469.6 616.0L470.3 614.8L471.0 614.9L471.7 614.2L472.4 613.9L473.0 612.4L473.7 613.4L474.4 613.1L475.1 611.4L475.8 611.6L476.4 612.3L477.1 612.1L477.8 612.4L478.5 612.9L479.2 612.4L479.8 612.3L480.5 612.6L481.2 612.4L481.9 613.1L482.6 613.7L483.2 614.1L483.9 614.0L484.6 615.2L485.3 614.4L486.0 615.2L486.6 614.9L487.3 613.5L488.0 613.1L488.7 612.0L489.4 611.6L490.0 611.6L490.7 611.4L491.4 611.1L492.1 611.1L492.8 610.7L493.4 610.3L494.1 609.6L494.8 609.3L495.5 608.9L496.2 608.6L496.8 607.9L497.5 608.7L498.2 608.4L498.9 607.8L499.6 607.2L500.2 607.6L500.9 606.8L501.6 607.0L502.3 607.5L503.0 607.1L503.6 607.5L504.3 607.4L505.0 608.0L505.7 608.1L506.4 607.9L507.0 607.3L507.7 606.7L508.4 606.3L509.1 605.8L509.8 604.3L510.4 603.5L511.1 603.5L511.8 603.1L512.5 602.4L513.2 602.7L513.8 601.8L514.5 601.8L515.2 600.8L515.9 599.8L516.6 599.5L517.2 600.3L517.9 599.6L518.6 599.0L519.3 599.4L520.0 599.2L520.6 598.2L521.3 598.2L522.0 597.2L522.7 596.6L523.4 597.1L524.0 599.5L524.7 599.3L525.4 600.3L526.1 600.9L526.8 601.9L527.4 602.2L528.1 604.4L528.8 605.2L529.5 607.0L530.2 607.2L530.8 608.3L531.5 610.8L532.2 611.7L532.9 614.2L533.6 616.3L534.2 616.1L534.9 615.4L535.6 613.7L536.3 611.9L537.0 610.5L537.6 609.3L538.3 608.1L539.0 608.3L539.7 607.8L540.4 607.7L541.0 608.2L541.7 608.0L542.4 608.2L543.1 608.1L543.8 608.4L544.4 608.6L545.1 608.7L545.8 608.5L546.5 608.4L547.2 609.7L547.8 611.2L548.5 612.6L549.2 613.5L549.9 614.0L550.6 613.1L551.2 612.4L551.9 611.0L552.6 611.6L553.3 611.4L554.0 609.8L554.6 610.2L555.3 608.7L556.0 607.7L556.7 607.9L557.4 606.7L558.0 608.7L558.7 607.6L559.4 607.4L560.1 606.6L560.8 605.2L561.4 604.4L562.1 603.5L562.8 603.2L563.5 602.9L564.2 602.7L564.8 600.9L565.5 601.6L566.2 600.6L566.9 600.6L567.6 600.6L568.2 600.2L568.9 600.4L569.6 599.2L570.3 599.8L571.0 599.2L571.6 600.0L572.3 600.8L573.0 600.2L573.7 600.0L574.4 599.8L575.0 597.5L575.7 596.3L576.4 596.6L577.1 596.4L577.8 594.4L578.4 594.8L579.1 594.7L579.8 595.3L580.5 595.3L581.2 595.1L581.8 595.8L582.5 596.8L583.2 596.4L583.9 597.1L584.6 597.4L585.2 598.0L585.9 597.6L586.6 597.2L587.3 596.4L588.0 596.6L588.6 596.7L589.3 596.0L590.0 596.0L590.7 594.9L591.4 595.4L592.0 595.0L592.7 595.0L593.4 595.2L594.1 595.1L594.8 593.8L595.4 592.4L596.1 591.9L596.8 591.8L597.5 591.1L598.2 592.2L598.8 592.1L599.5 592.1L600.2 592.5L600.9 592.2L601.6 592.3L602.2 592.7L602.9 593.1L603.6 593.6L604.3 593.9L605.0 594.2L605.6 594.8L606.3 594.2L607.0 593.8L607.7 595.2L608.4 593.8L609.0 593.2L609.7 592.9L610.4 592.2L611.1 591.9L611.8 592.2L612.4 592.6L613.1 592.9L613.8 593.1L614.5 593.5L615.2 592.4L615.8 595.1L616.5 594.0L617.2 593.3L617.9 593.8L618.6 592.7L619.2 593.3L619.9 593.0L620.6 593.1L621.3 594.5L622.0 594.8L622.6 594.7L623.3 596.4L624.0 597.1L624.7 597.3L625.4 598.4L626.0 599.4L626.7 600.0L627.4 600.4L628.1 601.2L628.8 602.5L629.4 603.2L630.1 604.2L630.8 605.3L631.5 607.8L632.2 607.0L632.8 606.8L633.5 605.3L634.2 605.4L634.9 604.6L635.6 603.8L636.2 603.4L636.9 602.9L637.6 602.3L638.3 602.4L639.0 603.0L639.6 603.7L640.3 605.2L641.0 607.4L641.7 610.2L642.4 613.5L643.0 617.4L643.7 617.5L644.4 614.5L645.1 610.9L645.8 612.3L646.4 614.1L647.1 615.2L647.8 614.2L648.5 615.5L649.2 617.8L649.8 617.6L650.5 615.2L651.2 614.5L651.9 612.5L652.6 610.4L653.2 609.8L653.9 609.4L654.6 607.0L655.3 607.2L656.0 607.3L656.6 608.1L657.3 606.9L658.0 605.4L658.7 604.2L659.4 603.4L660.0 602.2L660.7 601.8L661.4 602.6L662.1 602.4L662.8 603.4L663.4 603.1L664.1 604.3L664.8 605.9L665.5 606.1L666.2 605.5L666.8 603.5L667.5 603.8L668.2 602.9L668.9 602.8L669.6 602.2L670.2 601.7L670.9 601.3L671.6 601.4L672.3 601.6L673.0 600.5L673.6 600.5L674.3 600.1L675.0 600.2L675.7 601.0L676.4 600.8L677.0 600.7L677.7 601.1L678.4 600.4L679.1 600.0L679.8 599.4L680.4 598.7L681.1 598.9L681.8 597.8L682.5 597.8L683.2 597.3L683.8 597.2L684.5 596.2L685.2 596.2L685.9 594.8L686.6 595.3L687.2 595.0L687.9 594.6L688.6 593.3L689.3 594.2L690.0 593.3L690.6 593.1L691.3 593.9L692.0 592.9L692.7 593.1L693.4 591.7L694.0 592.5L694.7 592.2L695.4 593.2L696.1 593.6L696.8 594.2L697.4 593.3L698.1 593.3L698.8 592.0L699.5 591.2L700.2 592.0L700.8 590.7L701.5 591.3L702.2 591.9L702.9 592.5L703.6 592.1L704.2 592.0L704.9 591.5L705.6 591.3L706.3 591.0L707.0 591.0L707.6 590.3L708.3 590.5L709.0 590.8L709.7 590.2L710.4 590.0L711.0 590.2L711.7 589.1L712.4 589.1L713.1 589.8L713.8 588.9L714.4 588.7L715.1 588.1L715.8 587.6L716.5 587.2L717.2 587.4L717.8 587.7L718.5 586.9L719.2 587.1L719.9 586.4L720.6 586.3L721.2 586.2L721.9 587.2L722.6 585.7L723.3 585.1L724.0 584.7L724.6 583.1L725.3 582.2L726.0 581.4L726.7 581.8L727.4 581.3L728.0 582.8L728.7 583.4L729.4 583.9L730.1 585.1L730.8 585.6L731.4 583.8L732.1 584.1L732.8 583.3L733.5 582.1L734.2 581.2L734.8 580.4L735.5 580.0L736.2 579.4L736.9 580.4L737.6 581.1L738.2 580.8L738.9 580.7L739.6 579.7L740.3 579.3L741.0 579.6L741.6 578.9L742.3 579.2L743.0 579.9L743.7 582.1L744.4 581.4L745.0 580.6L745.7 580.1L746.4 580.1L747.1 579.2L747.8 578.1L748.4 577.7L749.1 577.1L749.8 578.1L750.5 578.5L751.2 579.0L751.3 578.1" fill="none" stroke="#1c93c7" stroke-width="1.65" stroke-linejoin="round" stroke-linecap="round"/><rect x="57.500" y="714.500" width="17" height="11" fill="#c6daf4"/><text x="83.00" y="725.30" font-size="12.70" fill="#222">投信残高（評価金額）</text><path d="M234.600 719.200h16" stroke="#f3a11f" stroke-width="2.600"/><text x="260.00" y="725.30" font-size="12.70" fill="#222">実質投資額</text><text x="326.45" y="725.30" font-size="12.70" text-anchor="start" fill="#222" textLength="4.35" lengthAdjust="spacingAndGlyphs">(</text><text x="330.80" y="725.30" font-size="12.70" fill="#222">買付金額</text><text x="384.59" y="725.30" font-size="12.70" text-anchor="start" fill="#222" textLength="3.51" lengthAdjust="spacingAndGlyphs">-</text><text x="391.25" y="725.30" font-size="12.70" fill="#222">解約金額</text><text x="445.04" y="725.30" font-size="12.70" text-anchor="start" fill="#222" textLength="3.51" lengthAdjust="spacingAndGlyphs">-</text><text x="451.70" y="725.30" font-size="12.70" fill="#222">受取分配金額（税引後）</text><text x="590.96" y="725.30" font-size="12.70" text-anchor="start" fill="#222" textLength="4.42" lengthAdjust="spacingAndGlyphs">)</text><path d="M107.5 760.0H757.5" stroke="#cfcfcf" stroke-width="1"/><text x="88.90" y="764.30" font-size="9.30" text-anchor="end" fill="#5c5c5c" textLength="33.19" lengthAdjust="spacingAndGlyphs">750,000</text><text x="90.80" y="764.60" font-size="10.20" fill="#666">円</text><path d="M107.5 790.0H757.5" stroke="#cfcfcf" stroke-width="1"/><text x="88.90" y="794.30" font-size="9.30" text-anchor="end" fill="#5c5c5c" textLength="33.19" lengthAdjust="spacingAndGlyphs">500,000</text><text x="90.80" y="794.60" font-size="10.20" fill="#666">円</text><path d="M107.5 819.4H757.5" stroke="#cfcfcf" stroke-width="1"/><text x="88.90" y="823.70" font-size="9.30" text-anchor="end" fill="#5c5c5c" textLength="33.19" lengthAdjust="spacingAndGlyphs">250,000</text><text x="90.80" y="824.00" font-size="10.20" fill="#666">円</text><path d="M107.5 849.0H757.5" stroke="#cfcfcf" stroke-width="1"/><text x="88.90" y="853.30" font-size="9.30" text-anchor="end" fill="#5c5c5c" textLength="5.23" lengthAdjust="spacingAndGlyphs">0</text><text x="90.80" y="853.60" font-size="10.20" fill="#666">円</text><text x="88.90" y="882.70" font-size="9.30" text-anchor="end" fill="#5c5c5c" textLength="35.76" lengthAdjust="spacingAndGlyphs">-250,000</text><text x="90.80" y="883.00" font-size="10.20" fill="#666">円</text><path d="M113.3 849.0L113.3 848.9L114.0 848.8L114.7 848.6L115.4 848.5L116.0 848.4L116.7 848.3L117.4 848.2L118.1 848.2L118.8 848.2L119.4 848.2L120.1 848.2L120.8 848.2L121.5 848.2L122.2 848.2L122.8 848.2L123.5 848.2L124.2 848.1L124.9 848.0L125.6 847.8L126.2 847.6L126.9 847.5L127.6 847.3L128.3 847.0L129.0 846.7L129.6 846.4L130.3 846.0L131.0 845.7L131.7 845.5L132.4 845.2L133.0 845.0L133.7 844.9L134.4 844.9L135.1 844.9L135.8 844.9L136.4 844.9L137.1 844.9L137.8 844.9L138.5 844.9L139.2 844.9L139.8 844.9L140.5 844.9L141.2 844.9L141.9 844.9L142.6 844.9L143.2 844.9L143.9 844.9L144.6 844.8L145.3 844.8L146.0 844.8L146.6 844.8L147.3 844.8L148.0 844.8L148.7 844.8L149.4 844.8L150.0 844.8L150.7 844.8L151.4 844.8L152.1 844.8L152.8 844.8L153.4 844.8L154.1 844.8L154.8 844.8L155.5 844.8L156.2 844.8L156.8 844.8L157.5 844.8L158.2 844.8L158.9 844.8L159.6 844.8L160.2 844.8L160.9 844.8L161.6 844.8L162.3 844.8L163.0 844.8L163.6 844.8L164.3 844.8L165.0 844.8L165.7 844.8L166.4 844.8L167.0 844.8L167.7 844.8L168.4 844.8L169.1 844.8L169.8 844.8L170.4 844.8L171.1 844.8L171.8 844.8L172.5 844.8L173.2 844.8L173.8 844.8L174.5 844.8L175.2 844.7L175.9 844.7L176.6 844.7L177.2 844.7L177.9 844.7L178.6 844.7L179.3 844.7L180.0 844.7L180.6 844.7L181.3 844.7L182.0 844.7L182.7 844.7L183.4 844.7L184.0 844.7L184.7 844.7L185.4 844.7L186.1 844.7L186.8 844.7L187.4 844.7L188.1 844.7L188.8 844.7L189.5 844.7L190.2 844.7L190.8 844.7L191.5 844.7L192.2 844.7L192.9 844.7L193.6 844.7L194.2 844.7L194.9 844.7L195.6 844.7L196.3 844.7L197.0 844.7L197.6 844.7L198.3 844.7L199.0 844.7L199.7 844.7L200.4 844.7L201.0 844.7L201.7 844.7L202.4 844.7L203.1 844.7L203.8 844.7L204.4 844.7L205.1 844.7L205.8 844.6L206.5 844.6L207.2 844.6L207.8 844.6L208.5 844.6L209.2 844.6L209.9 844.6L210.6 844.6L211.2 844.6L211.9 844.6L212.6 844.6L213.3 844.6L214.0 844.6L214.6 844.6L215.3 844.6L216.0 844.6L216.7 844.6L217.4 844.6L218.0 844.6L218.7 844.6L219.4 844.6L220.1 844.6L220.8 844.6L221.4 844.6L222.1 844.6L222.8 844.6L223.5 844.6L224.2 844.6L224.8 844.6L225.5 844.6L226.2 844.6L226.9 844.6L227.6 844.6L228.2 844.6L228.9 844.6L229.6 844.6L230.3 844.6L231.0 844.6L231.6 844.6L232.3 844.6L233.0 844.6L233.7 844.6L234.4 844.6L235.0 844.6L235.7 844.6L236.4 844.5L237.1 844.5L237.8 844.5L238.4 844.5L239.1 833.7L239.8 832.6L240.5 832.6L241.2 832.6L241.8 832.6L242.5 832.6L243.2 832.6L243.9 832.6L244.6 832.1L245.2 829.2L245.9 829.2L246.6 829.2L247.3 829.2L248.0 829.2L248.6 829.2L249.3 829.2L250.0 829.2L250.7 829.2L251.4 829.2L252.0 829.2L252.7 829.2L253.4 829.2L254.1 829.2L254.8 829.2L255.4 829.2L256.1 826.4L256.8 824.3L257.5 823.1L258.2 820.5L258.8 816.6L259.5 813.6L260.2 811.4L260.9 810.0L261.6 809.0L262.2 808.3L262.9 808.3L263.6 808.3L264.3 808.5L265.0 808.8L265.6 809.2L266.3 809.5L267.0 809.9L267.7 809.9L268.4 809.4L269.0 810.0L269.7 810.5L270.4 809.5L271.1 809.9L271.8 809.6L272.4 810.0L273.1 810.1L273.8 810.0L274.5 809.7L275.2 808.9L275.8 809.2L276.5 809.2L277.2 809.5L277.9 808.4L278.6 809.4L279.2 808.6L279.9 808.2L280.6 809.2L281.3 808.7L282.0 808.2L282.6 808.5L283.3 808.5L284.0 807.7L284.7 808.6L285.4 807.7L286.0 808.2L286.7 807.6L287.4 807.1L288.1 807.4L288.8 807.3L289.4 807.5L290.1 806.7L290.8 806.9L291.5 807.4L292.2 807.1L292.8 807.1L293.5 807.4L294.2 806.8L294.9 808.0L295.6 807.0L296.2 807.4L296.9 807.2L297.6 807.6L298.3 807.1L299.0 807.0L299.6 807.4L300.3 807.5L301.0 807.2L301.7 808.0L302.4 807.5L303.0 807.8L303.7 807.7L304.4 807.6L305.1 807.2L305.8 807.9L306.4 807.1L307.1 807.3L307.8 807.8L308.5 807.6L309.2 806.9L309.8 807.2L310.5 806.9L311.2 807.7L311.9 807.1L312.6 807.3L313.2 807.0L313.9 807.1L314.6 807.5L315.3 806.9L316.0 807.3L316.6 807.1L317.3 807.1L318.0 806.7L318.7 807.5L319.4 806.4L320.0 806.5L320.7 806.7L321.4 806.9L322.1 806.5L322.8 806.1L323.4 806.4L324.1 806.0L324.8 805.8L325.5 806.3L326.2 804.6L326.8 805.0L327.5 805.2L328.2 805.0L328.9 805.2L329.6 805.8L330.2 805.5L330.9 804.7L331.6 804.8L332.3 804.8L333.0 804.2L333.6 803.7L334.3 803.9L335.0 803.5L335.7 803.6L336.4 803.6L337.0 803.0L337.7 802.5L338.4 803.5L339.1 803.0L339.8 802.4L340.4 802.1L341.1 802.4L341.8 802.2L342.5 802.1L343.2 801.9L343.8 801.4L344.5 801.2L345.2 800.6L345.9 800.7L346.6 800.6L347.2 800.9L347.9 799.9L348.6 801.0L349.3 800.5L350.0 799.8L350.6 799.8L351.3 800.2L352.0 800.4L352.7 800.7L353.4 799.9L354.0 800.3L354.7 800.4L355.4 800.2L356.1 799.8L356.8 799.3L357.4 799.5L358.1 799.3L358.8 800.2L359.5 800.1L360.2 800.0L360.8 799.5L361.5 799.4L362.2 799.3L362.9 798.9L363.6 799.2L364.2 799.5L364.9 799.2L365.6 798.6L366.3 799.4L367.0 799.1L367.6 799.1L368.3 799.6L369.0 798.0L369.7 798.0L370.4 798.1L371.0 798.7L371.7 798.4L372.4 798.0L373.1 799.0L373.8 799.2L374.4 799.6L375.1 799.3L375.8 799.8L376.5 799.1L377.2 799.5L377.8 799.5L378.5 798.8L379.2 798.7L379.9 799.1L380.6 798.3L381.2 798.1L381.9 798.3L382.6 798.3L383.3 798.3L384.0 797.7L384.6 798.0L385.3 797.4L386.0 797.2L386.7 798.4L387.4 797.2L388.0 797.2L388.7 798.2L389.4 798.0L390.1 798.8L390.8 797.9L391.4 798.6L392.1 799.5L392.8 799.3L393.5 798.9L394.2 799.9L394.8 799.8L395.5 799.4L396.2 800.0L396.9 800.0L397.6 799.4L398.2 799.6L398.9 799.9L399.6 799.2L400.3 798.8L401.0 798.9L401.6 799.1L402.3 798.8L403.0 798.7L403.7 798.6L404.4 800.1L405.0 800.1L405.7 800.8L406.4 800.7L407.1 800.8L407.8 801.2L408.4 800.5L409.1 800.0L409.8 799.3L410.5 798.3L411.2 798.9L411.8 798.6L412.5 797.7L413.2 797.5L413.9 798.1L414.6 797.2L415.2 796.7L415.9 796.3L416.6 797.3L417.3 797.0L418.0 796.2L418.6 796.7L419.3 796.2L420.0 796.5L420.7 797.1L421.4 796.7L422.0 796.7L422.7 796.4L423.4 797.1L424.1 796.7L424.8 796.3L425.4 797.4L426.1 796.4L426.8 796.4L427.5 796.6L428.2 796.3L428.8 796.3L429.5 796.3L430.2 796.0L430.9 795.8L431.6 795.9L432.2 796.4L432.9 796.0L433.6 796.5L434.3 795.8L435.0 795.4L435.6 795.7L436.3 795.5L437.0 795.3L437.7 795.2L438.4 795.5L439.0 795.2L439.7 794.9L440.4 794.7L441.1 794.6L441.8 794.4L442.4 794.0L443.1 793.3L443.8 793.7L444.5 793.4L445.2 793.3L445.8 791.6L446.5 792.7L447.2 792.3L447.9 791.1L448.6 792.4L449.2 791.1L449.9 791.5L450.6 791.6L451.3 791.8L452.0 791.1L452.6 790.9L453.3 790.3L454.0 790.7L454.7 790.9L455.4 790.1L456.0 791.0L456.7 789.3L457.4 790.0L458.1 790.0L458.8 790.1L459.4 790.1L460.1 790.3L460.8 789.6L461.5 789.1L462.2 789.2L462.8 789.4L463.5 789.2L464.2 789.7L464.9 790.0L465.6 790.3L466.2 790.7L466.9 790.3L467.6 789.5L468.3 789.5L469.0 789.4L469.6 789.2L470.3 789.5L471.0 789.2L471.7 788.7L472.4 788.9L473.0 787.7L473.7 787.9L474.4 788.2L475.1 787.7L475.8 787.4L476.4 787.3L477.1 787.8L477.8 787.8L478.5 788.3L479.2 788.4L479.8 787.9L480.5 787.7L481.2 787.6L481.9 787.6L482.6 788.4L483.2 787.6L483.9 787.3L484.6 787.4L485.3 787.8L486.0 787.6L486.6 787.9L487.3 788.1L488.0 789.1L488.7 788.5L489.4 788.4L490.0 788.1L490.7 786.8L491.4 787.5L492.1 786.7L492.8 786.8L493.4 786.1L494.1 786.9L494.8 786.5L495.5 785.9L496.2 786.5L496.8 785.6L497.5 786.2L498.2 785.5L498.9 786.2L499.6 784.9L500.2 785.4L500.9 784.7L501.6 784.6L502.3 784.7L503.0 784.9L503.6 784.5L504.3 785.1L505.0 785.5L505.7 785.2L506.4 784.5L507.0 785.3L507.7 783.7L508.4 784.7L509.1 783.8L509.8 783.3L510.4 783.4L511.1 783.2L511.8 783.4L512.5 783.0L513.2 782.4L513.8 782.7L514.5 782.0L515.2 781.6L515.9 781.3L516.6 781.2L517.2 781.5L517.9 781.1L518.6 781.4L519.3 780.5L520.0 780.9L520.6 780.9L521.3 780.7L522.0 780.7L522.7 779.5L523.4 780.0L524.0 780.6L524.7 781.3L525.4 782.2L526.1 783.0L526.8 782.4L527.4 783.0L528.1 783.9L528.8 784.0L529.5 785.3L530.2 785.5L530.8 786.3L531.5 787.5L532.2 788.9L532.9 789.4L533.6 789.4L534.2 789.5L534.9 788.5L535.6 787.4L536.3 786.8L537.0 787.2L537.6 786.9L538.3 786.7L539.0 787.1L539.7 787.4L540.4 787.7L541.0 787.4L541.7 787.0L542.4 786.9L543.1 786.8L543.8 787.4L544.4 786.5L545.1 786.8L545.8 786.5L546.5 787.7L547.2 788.5L547.8 789.3L548.5 790.2L549.2 790.2L549.9 789.6L550.6 789.0L551.2 789.3L551.9 788.6L552.6 788.4L553.3 787.7L554.0 787.9L554.6 787.6L555.3 787.4L556.0 786.9L556.7 786.7L557.4 785.9L558.0 786.4L558.7 785.9L559.4 786.1L560.1 785.2L560.8 785.0L561.4 785.3L562.1 784.6L562.8 784.8L563.5 784.3L564.2 784.1L564.8 783.1L565.5 783.8L566.2 783.5L566.9 782.7L567.6 783.5L568.2 782.2L568.9 782.7L569.6 783.5L570.3 782.9L571.0 782.2L571.6 782.6L572.3 782.5L573.0 780.8L573.7 781.8L574.4 781.4L575.0 781.5L575.7 780.6L576.4 780.1L577.1 780.5L577.8 781.6L578.4 780.9L579.1 781.8L579.8 781.6L580.5 781.1L581.2 781.8L581.8 781.7L582.5 782.0L583.2 782.0L583.9 781.6L584.6 782.1L585.2 781.6L585.9 781.4L586.6 781.3L587.3 781.0L588.0 781.1L588.6 780.9L589.3 780.3L590.0 781.3L590.7 780.6L591.4 780.3L592.0 779.7L592.7 780.7L593.4 780.3L594.1 780.4L594.8 779.9L595.4 779.9L596.1 779.1L596.8 778.9L597.5 779.3L598.2 779.7L598.8 779.1L599.5 778.7L600.2 779.4L600.9 779.6L601.6 779.3L602.2 779.5L602.9 780.9L603.6 780.2L604.3 780.1L605.0 780.6L605.6 779.7L606.3 779.5L607.0 779.6L607.7 780.0L608.4 779.9L609.0 779.7L609.7 780.3L610.4 779.2L611.1 779.4L611.8 780.5L612.4 780.3L613.1 780.1L613.8 780.5L614.5 780.2L615.2 781.3L615.8 780.5L616.5 781.0L617.2 780.6L617.9 780.4L618.6 780.0L619.2 780.4L619.9 780.5L620.6 780.3L621.3 780.2L622.0 780.4L622.6 780.5L623.3 781.7L624.0 781.7L624.7 782.2L625.4 783.5L626.0 783.9L626.7 784.7L627.4 785.5L628.1 785.8L628.8 785.7L629.4 787.1L630.1 787.4L630.8 787.8L631.5 787.4L632.2 787.8L632.8 787.4L633.5 787.7L634.2 786.3L634.9 786.0L635.6 786.3L636.2 786.1L636.9 785.4L637.6 786.2L638.3 786.3L639.0 787.3L639.6 787.4L640.3 788.7L641.0 789.9L641.7 790.8L642.4 793.6L643.0 794.5L643.7 794.1L644.4 792.5L645.1 792.3L645.8 794.3L646.4 794.8L647.1 795.6L647.8 793.5L648.5 793.3L649.2 794.3L649.8 794.5L650.5 794.0L651.2 793.6L651.9 792.3L652.6 790.5L653.2 790.3L653.9 790.1L654.6 789.7L655.3 789.0L656.0 788.9L656.6 787.8L657.3 787.8L658.0 786.8L658.7 786.9L659.4 786.7L660.0 786.0L660.7 787.1L661.4 786.6L662.1 786.5L662.8 787.4L663.4 788.0L664.1 788.7L664.8 788.9L665.5 787.8L666.2 787.6L666.8 787.8L667.5 787.4L668.2 786.9L668.9 786.8L669.6 787.3L670.2 787.0L670.9 786.9L671.6 786.4L672.3 786.2L673.0 786.3L673.6 786.0L674.3 786.5L675.0 786.2L675.7 785.8L676.4 784.3L677.0 785.0L677.7 785.4L678.4 784.8L679.1 784.9L679.8 783.7L680.4 783.9L681.1 784.3L681.8 783.5L682.5 784.7L683.2 783.6L683.8 783.6L684.5 783.9L685.2 782.6L685.9 782.7L686.6 782.0L687.2 782.7L687.9 781.6L688.6 781.4L689.3 781.7L690.0 781.3L690.6 781.7L691.3 781.0L692.0 781.1L692.7 781.3L693.4 781.2L694.0 781.1L694.7 781.4L695.4 783.0L696.1 781.9L696.8 781.5L697.4 780.8L698.1 780.7L698.8 781.3L699.5 780.8L700.2 781.4L700.8 780.4L701.5 780.4L702.2 780.5L702.9 780.7L703.6 780.0L704.2 780.6L704.9 780.0L705.6 780.0L706.3 779.8L707.0 780.5L707.6 781.0L708.3 780.2L709.0 779.7L709.7 779.8L710.4 780.4L711.0 780.3L711.7 780.0L712.4 779.9L713.1 779.4L713.8 779.8L714.4 779.5L715.1 778.9L715.8 778.8L716.5 779.2L717.2 779.1L717.8 778.4L718.5 778.7L719.2 778.3L719.9 777.7L720.6 777.9L721.2 777.7L721.9 776.9L722.6 777.5L723.3 777.3L724.0 777.3L724.6 776.7L725.3 775.4L726.0 775.6L726.7 776.4L727.4 776.2L728.0 776.4L728.7 776.5L729.4 777.1L730.1 776.8L730.8 777.0L731.4 776.6L732.1 776.0L732.8 775.2L733.5 774.8L734.2 775.5L734.8 775.6L735.5 774.6L736.2 774.7L736.9 774.9L737.6 774.7L738.2 775.2L738.9 775.2L739.6 774.5L740.3 774.0L741.0 774.8L741.6 774.4L742.3 774.9L743.0 774.6L743.7 775.2L744.4 775.3L745.0 774.0L745.7 774.6L746.4 774.1L747.1 773.7L747.8 773.2L748.4 773.4L749.1 772.8L749.8 774.2L750.3 773.9L750.3 849.0Z" fill="rgba(196,214,240,0.720)"/><path d="M113.3 848.9L114.0 848.8L114.7 848.6L115.4 848.5L116.0 848.4L116.7 848.3L117.4 848.2L118.1 848.2L118.8 848.2L119.4 848.2L120.1 848.2L120.8 848.2L121.5 848.2L122.2 848.2L122.8 848.2L123.5 848.2L124.2 848.1L124.9 848.0L125.6 847.8L126.2 847.6L126.9 847.5L127.6 847.3L128.3 847.0L129.0 846.7L129.6 846.4L130.3 846.0L131.0 845.7L131.7 845.5L132.4 845.2L133.0 845.0L133.7 844.9L134.4 844.9L135.1 844.9L135.8 844.9L136.4 844.9L137.1 844.9L137.8 844.9L138.5 844.9L139.2 844.9L139.8 844.9L140.5 844.9L141.2 844.9L141.9 844.9L142.6 844.9L143.2 844.9L143.9 844.9L144.6 844.8L145.3 844.8L146.0 844.8L146.6 844.8L147.3 844.8L148.0 844.8L148.7 844.8L149.4 844.8L150.0 844.8L150.7 844.8L151.4 844.8L152.1 844.8L152.8 844.8L153.4 844.8L154.1 844.8L154.8 844.8L155.5 844.8L156.2 844.8L156.8 844.8L157.5 844.8L158.2 844.8L158.9 844.8L159.6 844.8L160.2 844.8L160.9 844.8L161.6 844.8L162.3 844.8L163.0 844.8L163.6 844.8L164.3 844.8L165.0 844.8L165.7 844.8L166.4 844.8L167.0 844.8L167.7 844.8L168.4 844.8L169.1 844.8L169.8 844.8L170.4 844.8L171.1 844.8L171.8 844.8L172.5 844.8L173.2 844.8L173.8 844.8L174.5 844.8L175.2 844.7L175.9 844.7L176.6 844.7L177.2 844.7L177.9 844.7L178.6 844.7L179.3 844.7L180.0 844.7L180.6 844.7L181.3 844.7L182.0 844.7L182.7 844.7L183.4 844.7L184.0 844.7L184.7 844.7L185.4 844.7L186.1 844.7L186.8 844.7L187.4 844.7L188.1 844.7L188.8 844.7L189.5 844.7L190.2 844.7L190.8 844.7L191.5 844.7L192.2 844.7L192.9 844.7L193.6 844.7L194.2 844.7L194.9 844.7L195.6 844.7L196.3 844.7L197.0 844.7L197.6 844.7L198.3 844.7L199.0 844.7L199.7 844.7L200.4 844.7L201.0 844.7L201.7 844.7L202.4 844.7L203.1 844.7L203.8 844.7L204.4 844.7L205.1 844.7L205.8 844.6L206.5 844.6L207.2 844.6L207.8 844.6L208.5 844.6L209.2 844.6L209.9 844.6L210.6 844.6L211.2 844.6L211.9 844.6L212.6 844.6L213.3 844.6L214.0 844.6L214.6 844.6L215.3 844.6L216.0 844.6L216.7 844.6L217.4 844.6L218.0 844.6L218.7 844.6L219.4 844.6L220.1 844.6L220.8 844.6L221.4 844.6L222.1 844.6L222.8 844.6L223.5 844.6L224.2 844.6L224.8 844.6L225.5 844.6L226.2 844.6L226.9 844.6L227.6 844.6L228.2 844.6L228.9 844.6L229.6 844.6L230.3 844.6L231.0 844.6L231.6 844.6L232.3 844.6L233.0 844.6L233.7 844.6L234.4 844.6L235.0 844.6L235.7 844.6L236.4 844.5L237.1 844.5L237.8 844.5L238.4 844.5L239.1 833.7L239.8 832.6L240.5 832.6L241.2 832.6L241.8 832.6L242.5 832.6L243.2 832.6L243.9 832.6L244.6 832.1L245.2 829.2L245.9 829.2L246.6 829.2L247.3 829.2L248.0 829.2L248.6 829.2L249.3 829.2L250.0 829.2L250.7 829.2L251.4 829.2L252.0 829.2L252.7 829.2L253.4 829.2L254.1 829.2L254.8 829.2L255.4 829.2L256.1 826.4L256.8 824.3L257.5 823.1L258.2 820.5L258.8 816.6L259.5 813.6L260.2 811.4L260.9 810.0L261.6 809.0L262.2 808.3L262.9 808.3L263.6 808.3L264.3 808.5L265.0 808.8L265.6 809.2L266.3 809.5L267.0 809.9L267.7 809.9L268.4 809.4L269.0 810.0L269.7 810.5L270.4 809.5L271.1 809.9L271.8 809.6L272.4 810.0L273.1 810.1L273.8 810.0L274.5 809.7L275.2 808.9L275.8 809.2L276.5 809.2L277.2 809.5L277.9 808.4L278.6 809.4L279.2 808.6L279.9 808.2L280.6 809.2L281.3 808.7L282.0 808.2L282.6 808.5L283.3 808.5L284.0 807.7L284.7 808.6L285.4 807.7L286.0 808.2L286.7 807.6L287.4 807.1L288.1 807.4L288.8 807.3L289.4 807.5L290.1 806.7L290.8 806.9L291.5 807.4L292.2 807.1L292.8 807.1L293.5 807.4L294.2 806.8L294.9 808.0L295.6 807.0L296.2 807.4L296.9 807.2L297.6 807.6L298.3 807.1L299.0 807.0L299.6 807.4L300.3 807.5L301.0 807.2L301.7 808.0L302.4 807.5L303.0 807.8L303.7 807.7L304.4 807.6L305.1 807.2L305.8 807.9L306.4 807.1L307.1 807.3L307.8 807.8L308.5 807.6L309.2 806.9L309.8 807.2L310.5 806.9L311.2 807.7L311.9 807.1L312.6 807.3L313.2 807.0L313.9 807.1L314.6 807.5L315.3 806.9L316.0 807.3L316.6 807.1L317.3 807.1L318.0 806.7L318.7 807.5L319.4 806.4L320.0 806.5L320.7 806.7L321.4 806.9L322.1 806.5L322.8 806.1L323.4 806.4L324.1 806.0L324.8 805.8L325.5 806.3L326.2 804.6L326.8 805.0L327.5 805.2L328.2 805.0L328.9 805.2L329.6 805.8L330.2 805.5L330.9 804.7L331.6 804.8L332.3 804.8L333.0 804.2L333.6 803.7L334.3 803.9L335.0 803.5L335.7 803.6L336.4 803.6L337.0 803.0L337.7 802.5L338.4 803.5L339.1 803.0L339.8 802.4L340.4 802.1L341.1 802.4L341.8 802.2L342.5 802.1L343.2 801.9L343.8 801.4L344.5 801.2L345.2 800.6L345.9 800.7L346.6 800.6L347.2 800.9L347.9 799.9L348.6 801.0L349.3 800.5L350.0 799.8L350.6 799.8L351.3 800.2L352.0 800.4L352.7 800.7L353.4 799.9L354.0 800.3L354.7 800.4L355.4 800.2L356.1 799.8L356.8 799.3L357.4 799.5L358.1 799.3L358.8 800.2L359.5 800.1L360.2 800.0L360.8 799.5L361.5 799.4L362.2 799.3L362.9 798.9L363.6 799.2L364.2 799.5L364.9 799.2L365.6 798.6L366.3 799.4L367.0 799.1L367.6 799.1L368.3 799.6L369.0 798.0L369.7 798.0L370.4 798.1L371.0 798.7L371.7 798.4L372.4 798.0L373.1 799.0L373.8 799.2L374.4 799.6L375.1 799.3L375.8 799.8L376.5 799.1L377.2 799.5L377.8 799.5L378.5 798.8L379.2 798.7L379.9 799.1L380.6 798.3L381.2 798.1L381.9 798.3L382.6 798.3L383.3 798.3L384.0 797.7L384.6 798.0L385.3 797.4L386.0 797.2L386.7 798.4L387.4 797.2L388.0 797.2L388.7 798.2L389.4 798.0L390.1 798.8L390.8 797.9L391.4 798.6L392.1 799.5L392.8 799.3L393.5 798.9L394.2 799.9L394.8 799.8L395.5 799.4L396.2 800.0L396.9 800.0L397.6 799.4L398.2 799.6L398.9 799.9L399.6 799.2L400.3 798.8L401.0 798.9L401.6 799.1L402.3 798.8L403.0 798.7L403.7 798.6L404.4 800.1L405.0 800.1L405.7 800.8L406.4 800.7L407.1 800.8L407.8 801.2L408.4 800.5L409.1 800.0L409.8 799.3L410.5 798.3L411.2 798.9L411.8 798.6L412.5 797.7L413.2 797.5L413.9 798.1L414.6 797.2L415.2 796.7L415.9 796.3L416.6 797.3L417.3 797.0L418.0 796.2L418.6 796.7L419.3 796.2L420.0 796.5L420.7 797.1L421.4 796.7L422.0 796.7L422.7 796.4L423.4 797.1L424.1 796.7L424.8 796.3L425.4 797.4L426.1 796.4L426.8 796.4L427.5 796.6L428.2 796.3L428.8 796.3L429.5 796.3L430.2 796.0L430.9 795.8L431.6 795.9L432.2 796.4L432.9 796.0L433.6 796.5L434.3 795.8L435.0 795.4L435.6 795.7L436.3 795.5L437.0 795.3L437.7 795.2L438.4 795.5L439.0 795.2L439.7 794.9L440.4 794.7L441.1 794.6L441.8 794.4L442.4 794.0L443.1 793.3L443.8 793.7L444.5 793.4L445.2 793.3L445.8 791.6L446.5 792.7L447.2 792.3L447.9 791.1L448.6 792.4L449.2 791.1L449.9 791.5L450.6 791.6L451.3 791.8L452.0 791.1L452.6 790.9L453.3 790.3L454.0 790.7L454.7 790.9L455.4 790.1L456.0 791.0L456.7 789.3L457.4 790.0L458.1 790.0L458.8 790.1L459.4 790.1L460.1 790.3L460.8 789.6L461.5 789.1L462.2 789.2L462.8 789.4L463.5 789.2L464.2 789.7L464.9 790.0L465.6 790.3L466.2 790.7L466.9 790.3L467.6 789.5L468.3 789.5L469.0 789.4L469.6 789.2L470.3 789.5L471.0 789.2L471.7 788.7L472.4 788.9L473.0 787.7L473.7 787.9L474.4 788.2L475.1 787.7L475.8 787.4L476.4 787.3L477.1 787.8L477.8 787.8L478.5 788.3L479.2 788.4L479.8 787.9L480.5 787.7L481.2 787.6L481.9 787.6L482.6 788.4L483.2 787.6L483.9 787.3L484.6 787.4L485.3 787.8L486.0 787.6L486.6 787.9L487.3 788.1L488.0 789.1L488.7 788.5L489.4 788.4L490.0 788.1L490.7 786.8L491.4 787.5L492.1 786.7L492.8 786.8L493.4 786.1L494.1 786.9L494.8 786.5L495.5 785.9L496.2 786.5L496.8 785.6L497.5 786.2L498.2 785.5L498.9 786.2L499.6 784.9L500.2 785.4L500.9 784.7L501.6 784.6L502.3 784.7L503.0 784.9L503.6 784.5L504.3 785.1L505.0 785.5L505.7 785.2L506.4 784.5L507.0 785.3L507.7 783.7L508.4 784.7L509.1 783.8L509.8 783.3L510.4 783.4L511.1 783.2L511.8 783.4L512.5 783.0L513.2 782.4L513.8 782.7L514.5 782.0L515.2 781.6L515.9 781.3L516.6 781.2L517.2 781.5L517.9 781.1L518.6 781.4L519.3 780.5L520.0 780.9L520.6 780.9L521.3 780.7L522.0 780.7L522.7 779.5L523.4 780.0L524.0 780.6L524.7 781.3L525.4 782.2L526.1 783.0L526.8 782.4L527.4 783.0L528.1 783.9L528.8 784.0L529.5 785.3L530.2 785.5L530.8 786.3L531.5 787.5L532.2 788.9L532.9 789.4L533.6 789.4L534.2 789.5L534.9 788.5L535.6 787.4L536.3 786.8L537.0 787.2L537.6 786.9L538.3 786.7L539.0 787.1L539.7 787.4L540.4 787.7L541.0 787.4L541.7 787.0L542.4 786.9L543.1 786.8L543.8 787.4L544.4 786.5L545.1 786.8L545.8 786.5L546.5 787.7L547.2 788.5L547.8 789.3L548.5 790.2L549.2 790.2L549.9 789.6L550.6 789.0L551.2 789.3L551.9 788.6L552.6 788.4L553.3 787.7L554.0 787.9L554.6 787.6L555.3 787.4L556.0 786.9L556.7 786.7L557.4 785.9L558.0 786.4L558.7 785.9L559.4 786.1L560.1 785.2L560.8 785.0L561.4 785.3L562.1 784.6L562.8 784.8L563.5 784.3L564.2 784.1L564.8 783.1L565.5 783.8L566.2 783.5L566.9 782.7L567.6 783.5L568.2 782.2L568.9 782.7L569.6 783.5L570.3 782.9L571.0 782.2L571.6 782.6L572.3 782.5L573.0 780.8L573.7 781.8L574.4 781.4L575.0 781.5L575.7 780.6L576.4 780.1L577.1 780.5L577.8 781.6L578.4 780.9L579.1 781.8L579.8 781.6L580.5 781.1L581.2 781.8L581.8 781.7L582.5 782.0L583.2 782.0L583.9 781.6L584.6 782.1L585.2 781.6L585.9 781.4L586.6 781.3L587.3 781.0L588.0 781.1L588.6 780.9L589.3 780.3L590.0 781.3L590.7 780.6L591.4 780.3L592.0 779.7L592.7 780.7L593.4 780.3L594.1 780.4L594.8 779.9L595.4 779.9L596.1 779.1L596.8 778.9L597.5 779.3L598.2 779.7L598.8 779.1L599.5 778.7L600.2 779.4L600.9 779.6L601.6 779.3L602.2 779.5L602.9 780.9L603.6 780.2L604.3 780.1L605.0 780.6L605.6 779.7L606.3 779.5L607.0 779.6L607.7 780.0L608.4 779.9L609.0 779.7L609.7 780.3L610.4 779.2L611.1 779.4L611.8 780.5L612.4 780.3L613.1 780.1L613.8 780.5L614.5 780.2L615.2 781.3L615.8 780.5L616.5 781.0L617.2 780.6L617.9 780.4L618.6 780.0L619.2 780.4L619.9 780.5L620.6 780.3L621.3 780.2L622.0 780.4L622.6 780.5L623.3 781.7L624.0 781.7L624.7 782.2L625.4 783.5L626.0 783.9L626.7 784.7L627.4 785.5L628.1 785.8L628.8 785.7L629.4 787.1L630.1 787.4L630.8 787.8L631.5 787.4L632.2 787.8L632.8 787.4L633.5 787.7L634.2 786.3L634.9 786.0L635.6 786.3L636.2 786.1L636.9 785.4L637.6 786.2L638.3 786.3L639.0 787.3L639.6 787.4L640.3 788.7L641.0 789.9L641.7 790.8L642.4 793.6L643.0 794.5L643.7 794.1L644.4 792.5L645.1 792.3L645.8 794.3L646.4 794.8L647.1 795.6L647.8 793.5L648.5 793.3L649.2 794.3L649.8 794.5L650.5 794.0L651.2 793.6L651.9 792.3L652.6 790.5L653.2 790.3L653.9 790.1L654.6 789.7L655.3 789.0L656.0 788.9L656.6 787.8L657.3 787.8L658.0 786.8L658.7 786.9L659.4 786.7L660.0 786.0L660.7 787.1L661.4 786.6L662.1 786.5L662.8 787.4L663.4 788.0L664.1 788.7L664.8 788.9L665.5 787.8L666.2 787.6L666.8 787.8L667.5 787.4L668.2 786.9L668.9 786.8L669.6 787.3L670.2 787.0L670.9 786.9L671.6 786.4L672.3 786.2L673.0 786.3L673.6 786.0L674.3 786.5L675.0 786.2L675.7 785.8L676.4 784.3L677.0 785.0L677.7 785.4L678.4 784.8L679.1 784.9L679.8 783.7L680.4 783.9L681.1 784.3L681.8 783.5L682.5 784.7L683.2 783.6L683.8 783.6L684.5 783.9L685.2 782.6L685.9 782.7L686.6 782.0L687.2 782.7L687.9 781.6L688.6 781.4L689.3 781.7L690.0 781.3L690.6 781.7L691.3 781.0L692.0 781.1L692.7 781.3L693.4 781.2L694.0 781.1L694.7 781.4L695.4 783.0L696.1 781.9L696.8 781.5L697.4 780.8L698.1 780.7L698.8 781.3L699.5 780.8L700.2 781.4L700.8 780.4L701.5 780.4L702.2 780.5L702.9 780.7L703.6 780.0L704.2 780.6L704.9 780.0L705.6 780.0L706.3 779.8L707.0 780.5L707.6 781.0L708.3 780.2L709.0 779.7L709.7 779.8L710.4 780.4L711.0 780.3L711.7 780.0L712.4 779.9L713.1 779.4L713.8 779.8L714.4 779.5L715.1 778.9L715.8 778.8L716.5 779.2L717.2 779.1L717.8 778.4L718.5 778.7L719.2 778.3L719.9 777.7L720.6 777.9L721.2 777.7L721.9 776.9L722.6 777.5L723.3 777.3L724.0 777.3L724.6 776.7L725.3 775.4L726.0 775.6L726.7 776.4L727.4 776.2L728.0 776.4L728.7 776.5L729.4 777.1L730.1 776.8L730.8 777.0L731.4 776.6L732.1 776.0L732.8 775.2L733.5 774.8L734.2 775.5L734.8 775.6L735.5 774.6L736.2 774.7L736.9 774.9L737.6 774.7L738.2 775.2L738.9 775.2L739.6 774.5L740.3 774.0L741.0 774.8L741.6 774.4L742.3 774.9L743.0 774.6L743.7 775.2L744.4 775.3L745.0 774.0L745.7 774.6L746.4 774.1L747.1 773.7L747.8 773.2L748.4 773.4L749.1 772.8L749.8 774.2L750.3 773.9" fill="none" stroke="#c3d3ea" stroke-width="0.9" stroke-linejoin="round" stroke-linecap="round"/><path d="M113.3 848.9L117.3 848.2L124.0 848.2L128.0 847.2L130.6 845.9L133.3 844.9L137.3 844.9L238.8 844.5L239.2 832.6L244.5 832.6L245.1 829.2L255.5 829.2L256.5 824.9L257.8 822.6L259.1 814.9L260.5 810.6L262.1 807.6L263.8 807.3L376.0 807.3L438.4 807.4L475.9 808.4L513.3 809.2L550.8 809.9L580.0 811.2L663.4 812.2L750.8 814.4" fill="none" stroke="#f0a22a" stroke-width="2.0" stroke-linejoin="round" stroke-linecap="round"/><text x="461.80" y="869.00" font-size="7.60" fill="#222">※</text><text x="469.20" y="870.20" font-size="12.60" fill="#333">実質投資額の利益金額は、</text><text x="620.16" y="870.20" font-size="12.40" text-anchor="start" fill="#333" textLength="6.97" lengthAdjust="spacingAndGlyphs">0</text><text x="627.13" y="870.20" font-size="12.60" fill="#333">以下で表示されます。</text><path d="M107.5 877.0H757.5" stroke="#ccd6e6" stroke-width="1"/><path d="M108.4 877.0v3.500" stroke="#ccd6e6" stroke-width="1"/><text x="108.40" y="888.30" font-size="9.30" text-anchor="middle" fill="#5c5c5c" textLength="35.20" lengthAdjust="spacingAndGlyphs">2022/01</text><path d="M189.7 877.0v3.500" stroke="#ccd6e6" stroke-width="1"/><text x="189.70" y="888.30" font-size="9.30" text-anchor="middle" fill="#5c5c5c" textLength="35.20" lengthAdjust="spacingAndGlyphs">2022/07</text><path d="M272.5 877.0v3.500" stroke="#ccd6e6" stroke-width="1"/><text x="272.50" y="888.30" font-size="9.30" text-anchor="middle" fill="#5c5c5c" textLength="35.20" lengthAdjust="spacingAndGlyphs">2023/01</text><path d="M353.9 877.0v3.500" stroke="#ccd6e6" stroke-width="1"/><text x="353.90" y="888.30" font-size="9.30" text-anchor="middle" fill="#5c5c5c" textLength="35.20" lengthAdjust="spacingAndGlyphs">2023/07</text><path d="M436.0 877.0v3.500" stroke="#ccd6e6" stroke-width="1"/><text x="436.00" y="888.30" font-size="9.30" text-anchor="middle" fill="#5c5c5c" textLength="35.20" lengthAdjust="spacingAndGlyphs">2024/01</text><path d="M517.6 877.0v3.500" stroke="#ccd6e6" stroke-width="1"/><text x="517.60" y="888.30" font-size="9.30" text-anchor="middle" fill="#5c5c5c" textLength="35.20" lengthAdjust="spacingAndGlyphs">2024/07</text><path d="M599.8 877.0v3.500" stroke="#ccd6e6" stroke-width="1"/><text x="599.80" y="888.30" font-size="9.30" text-anchor="middle" fill="#5c5c5c" textLength="35.20" lengthAdjust="spacingAndGlyphs">2025/01</text><path d="M680.4 877.0v3.500" stroke="#ccd6e6" stroke-width="1"/><path d="M123.6 933.7L123.6 928.0L143.2 927.6L158.8 928.4L163.5 929.6L168.6 928.8L182.3 928.0L201.9 926.8L221.5 926.4L241.1 925.6L260.7 925.3L266.6 926.8L272.4 925.6L280.3 925.3L299.8 924.5L319.4 923.7L339.0 922.5L358.6 921.7L378.2 920.9L397.8 920.2L413.4 919.4L413.4 933.7Z" fill="#e9eff6"/><path d="M123.6 928.0L143.2 927.6L158.8 928.4L163.5 929.6L168.6 928.8L182.3 928.0L201.9 926.8L221.5 926.4L241.1 925.6L260.7 925.3L266.6 926.8L272.4 925.6L280.3 925.3L299.8 924.5L319.4 923.7L339.0 922.5L358.6 921.7L378.2 920.9L397.8 920.2L413.4 919.4" fill="none" stroke="#d3deec" stroke-width="0.9" stroke-linejoin="round" stroke-linecap="round"/><path d="M414.4 933.7L414.4 919.8L415.1 919.8L415.8 919.7L416.5 919.9L417.2 920.0L417.9 920.3L418.5 920.6L419.2 920.9L419.9 921.5L420.6 921.9L421.3 922.0L422.0 921.5L422.7 921.1L423.4 921.3L424.0 920.7L424.7 920.9L425.4 921.2L426.1 921.5L426.8 922.1L427.5 922.3L428.2 921.8L428.9 921.6L429.5 921.9L430.2 922.4L430.9 922.4L431.6 922.0L432.3 921.4L433.0 920.8L433.7 920.3L434.4 919.7L435.0 919.3L435.7 919.5L436.4 919.6L437.1 919.7L437.8 919.5L438.5 919.5L439.2 919.5L439.9 919.0L440.5 919.5L441.2 920.1L441.9 920.5L442.6 920.3L443.3 920.2L444.0 920.3L444.7 921.1L445.4 921.4L446.0 920.8L446.7 921.5L447.4 921.9L448.1 921.6L448.8 921.0L449.5 920.7L450.2 920.2L450.9 919.9L451.6 920.1L452.2 921.2L452.9 922.1L453.6 922.1L454.3 921.6L455.0 920.9L455.7 921.2L456.4 921.3L457.1 921.0L457.7 920.7L458.4 920.7L459.1 920.7L459.8 920.3L460.5 919.9L461.2 920.0L461.9 919.9L462.6 919.8L463.2 919.9L463.9 919.6L464.6 919.4L465.3 919.3L466.0 919.0L466.7 918.7L467.4 918.5L468.1 918.6L468.7 919.0L469.4 919.2L470.1 919.4L470.8 919.7L471.5 919.3L472.2 918.7L472.9 918.6L473.6 919.0L474.2 919.4L474.9 919.7L475.6 920.2L476.3 920.5L477.0 920.3L477.7 920.5L478.4 920.0L479.1 920.2L479.7 920.0L480.4 919.7L481.1 919.7L481.8 919.7L482.5 919.2L483.2 918.9L483.9 918.5L484.6 919.1L485.2 919.4L485.9 919.4L486.6 919.5L487.3 919.4L488.0 919.3L488.7 919.3L489.4 919.2L490.1 919.4L490.7 919.5L491.4 919.9L492.1 920.0L492.8 919.8L493.5 919.9L494.2 920.3L494.9 921.0L495.6 921.2L496.3 921.2L496.9 921.3L497.6 921.4L498.3 921.5L499.0 921.2L499.7 921.0L500.4 921.0L501.1 921.0L501.8 921.0L502.4 921.1L503.1 920.8L503.8 920.5L504.5 920.4L505.2 920.0L505.9 919.8L506.6 919.9L507.3 919.9L507.9 919.5L508.6 919.7L509.3 919.9L510.0 920.1L510.7 920.1L511.4 919.9L512.1 919.8L512.8 919.6L513.4 920.1L514.1 920.8L514.8 920.7L515.5 920.6L516.2 920.7L516.9 920.5L517.6 920.3L518.3 920.0L518.9 919.7L519.6 919.8L520.3 919.6L521.0 919.5L521.7 919.3L522.4 919.2L523.1 919.4L523.8 919.3L524.4 918.9L525.1 918.7L525.8 918.8L526.5 919.2L527.2 919.1L527.9 918.9L528.6 918.6L529.3 918.2L529.9 918.0L530.6 918.0L531.3 917.7L532.0 917.8L532.7 917.7L533.4 917.6L534.1 917.4L534.8 917.0L535.5 916.6L536.1 916.5L536.8 916.4L537.5 916.4L538.2 916.2L538.9 915.8L539.6 915.9L540.3 916.0L541.0 916.3L541.6 916.6L542.3 916.3L543.0 916.1L543.7 915.9L544.4 915.7L545.1 915.7L545.8 915.4L546.5 915.4L547.1 915.6L547.8 915.5L548.5 915.5L549.2 915.3L549.9 915.6L550.6 915.9L551.3 915.7L552.0 915.4L552.6 915.1L553.3 915.1L554.0 915.2L554.7 915.2L555.4 915.0L556.1 914.9L556.8 915.2L557.5 915.5L558.1 915.6L558.8 915.7L559.5 915.7L560.2 915.9L560.9 915.8L561.6 915.5L562.3 915.3L563.0 915.2L563.6 915.4L564.3 915.7L565.0 916.0L565.7 916.3L566.4 916.6L567.1 916.1L567.8 915.6L568.5 915.2L569.1 914.9L569.8 914.5L570.5 914.3L571.2 914.2L571.9 914.1L572.6 914.2L573.3 914.4L574.0 914.4L574.7 914.6L575.3 914.9L576.0 914.6L576.7 914.4L577.4 914.2L578.1 914.2L578.8 914.3L579.5 914.1L580.2 914.2L580.8 914.3L581.5 914.2L582.2 913.9L582.9 913.7L583.6 913.4L584.3 913.1L585.0 912.9L585.7 912.6L586.3 912.5L587.0 912.4L587.7 912.6L588.4 912.2L589.1 911.9L589.8 911.6L590.5 911.4L591.2 911.2L591.8 911.4L592.5 911.2L593.2 910.9L593.9 910.7L594.6 910.6L595.3 910.6L596.0 910.8L596.7 911.1L597.3 910.7L598.0 910.4L598.7 909.6L599.4 909.5L600.1 909.6L600.8 909.5L601.5 909.4L602.2 909.7L602.8 910.0L603.5 909.6L604.2 909.7L604.9 910.0L605.6 910.4L606.3 910.3L607.0 909.9L607.7 909.6L608.3 909.4L609.0 909.3L609.7 909.0L610.4 908.6L611.1 908.4L611.8 908.3L612.5 908.1L613.2 908.0L613.9 907.9L614.5 908.1L615.2 908.3L615.9 908.0L616.6 907.8L617.3 907.5L618.0 907.2L618.7 906.8L619.4 906.6L620.0 906.3L620.7 906.0L621.4 905.9L622.1 905.6L622.8 905.4L623.5 905.2L624.2 905.0L624.9 905.4L625.5 905.5L626.2 906.1L626.9 906.8L627.6 907.5L628.3 907.8L629.0 908.7L629.7 910.1L630.4 910.9L631.0 910.0L631.7 909.0L632.4 908.3L633.1 908.5L633.8 908.7L634.5 908.6L635.2 908.6L635.9 908.4L636.5 908.5L637.2 909.7L637.9 910.1L638.6 909.8L639.3 909.3L640.0 908.9L640.7 908.6L641.4 908.3L642.0 908.0L642.7 908.1L643.4 907.8L644.1 907.3L644.8 906.9L645.5 906.6L646.2 906.3L646.9 906.1L647.5 905.9L648.2 905.8L648.9 905.6L649.6 905.9L650.3 906.0L651.0 904.9L651.7 904.3L652.4 904.0L653.0 903.9L653.7 904.3L654.4 904.1L655.1 904.2L655.8 904.7L656.5 904.8L657.2 904.6L657.9 904.5L658.6 904.3L659.2 904.2L659.9 903.9L660.6 904.0L661.3 903.8L662.0 903.2L662.7 903.0L663.4 903.2L664.1 903.4L664.7 903.4L665.4 903.6L666.1 903.8L666.8 904.1L667.5 903.9L668.2 903.4L668.9 902.7L669.6 903.1L670.2 903.4L670.9 903.6L671.6 903.9L672.3 904.1L673.0 903.8L673.7 903.8L674.4 903.9L675.1 904.3L675.7 904.9L676.4 905.3L677.1 905.7L677.8 906.2L678.5 907.0L679.2 907.8L679.9 908.2L680.6 907.5L681.2 907.0L681.9 906.5L682.6 906.1L683.3 906.7L684.0 907.1L684.7 907.9L685.4 910.3L686.1 910.7L686.7 910.3L687.4 910.3L688.1 911.2L688.8 911.9L689.5 909.8L690.2 909.3L690.9 908.9L691.6 908.4L692.2 908.2L692.9 907.5L693.6 906.4L694.3 906.2L695.0 906.5L695.7 906.6L696.4 907.4L697.1 907.5L697.8 906.8L698.4 906.6L699.1 906.4L699.8 906.3L700.5 906.0L701.2 906.1L701.9 905.9L702.6 905.8L703.3 905.5L703.9 905.2L704.6 904.8L705.3 904.6L706.0 904.4L706.7 904.1L707.4 904.0L708.1 903.7L708.8 903.5L709.4 903.8L710.1 903.6L710.8 903.2L711.5 902.8L712.2 903.7L712.9 903.6L713.6 903.2L714.3 903.0L714.9 902.8L715.6 902.7L716.3 902.8L717.0 902.7L717.7 902.7L718.4 902.5L719.1 902.5L719.8 902.4L720.4 902.3L721.1 902.0L721.8 901.8L722.5 901.7L723.2 901.4L723.9 901.3L724.6 901.4L725.3 901.2L725.9 900.8L726.6 900.4L727.3 899.4L728.0 899.9L728.7 900.4L729.4 900.8L730.1 900.2L730.8 899.7L731.4 899.1L732.1 898.8L732.8 898.5L733.5 898.9L734.2 899.5L734.9 898.7L735.6 899.1L736.3 899.4L737.0 899.5L737.6 898.9L738.3 898.3L739.0 898.0L740.0 898.2L740.0 933.7Z" fill="#a9bedb"/><path d="M414.4 919.8L415.1 919.8L415.8 919.7L416.5 919.9L417.2 920.0L417.9 920.3L418.5 920.6L419.2 920.9L419.9 921.5L420.6 921.9L421.3 922.0L422.0 921.5L422.7 921.1L423.4 921.3L424.0 920.7L424.7 920.9L425.4 921.2L426.1 921.5L426.8 922.1L427.5 922.3L428.2 921.8L428.9 921.6L429.5 921.9L430.2 922.4L430.9 922.4L431.6 922.0L432.3 921.4L433.0 920.8L433.7 920.3L434.4 919.7L435.0 919.3L435.7 919.5L436.4 919.6L437.1 919.7L437.8 919.5L438.5 919.5L439.2 919.5L439.9 919.0L440.5 919.5L441.2 920.1L441.9 920.5L442.6 920.3L443.3 920.2L444.0 920.3L444.7 921.1L445.4 921.4L446.0 920.8L446.7 921.5L447.4 921.9L448.1 921.6L448.8 921.0L449.5 920.7L450.2 920.2L450.9 919.9L451.6 920.1L452.2 921.2L452.9 922.1L453.6 922.1L454.3 921.6L455.0 920.9L455.7 921.2L456.4 921.3L457.1 921.0L457.7 920.7L458.4 920.7L459.1 920.7L459.8 920.3L460.5 919.9L461.2 920.0L461.9 919.9L462.6 919.8L463.2 919.9L463.9 919.6L464.6 919.4L465.3 919.3L466.0 919.0L466.7 918.7L467.4 918.5L468.1 918.6L468.7 919.0L469.4 919.2L470.1 919.4L470.8 919.7L471.5 919.3L472.2 918.7L472.9 918.6L473.6 919.0L474.2 919.4L474.9 919.7L475.6 920.2L476.3 920.5L477.0 920.3L477.7 920.5L478.4 920.0L479.1 920.2L479.7 920.0L480.4 919.7L481.1 919.7L481.8 919.7L482.5 919.2L483.2 918.9L483.9 918.5L484.6 919.1L485.2 919.4L485.9 919.4L486.6 919.5L487.3 919.4L488.0 919.3L488.7 919.3L489.4 919.2L490.1 919.4L490.7 919.5L491.4 919.9L492.1 920.0L492.8 919.8L493.5 919.9L494.2 920.3L494.9 921.0L495.6 921.2L496.3 921.2L496.9 921.3L497.6 921.4L498.3 921.5L499.0 921.2L499.7 921.0L500.4 921.0L501.1 921.0L501.8 921.0L502.4 921.1L503.1 920.8L503.8 920.5L504.5 920.4L505.2 920.0L505.9 919.8L506.6 919.9L507.3 919.9L507.9 919.5L508.6 919.7L509.3 919.9L510.0 920.1L510.7 920.1L511.4 919.9L512.1 919.8L512.8 919.6L513.4 920.1L514.1 920.8L514.8 920.7L515.5 920.6L516.2 920.7L516.9 920.5L517.6 920.3L518.3 920.0L518.9 919.7L519.6 919.8L520.3 919.6L521.0 919.5L521.7 919.3L522.4 919.2L523.1 919.4L523.8 919.3L524.4 918.9L525.1 918.7L525.8 918.8L526.5 919.2L527.2 919.1L527.9 918.9L528.6 918.6L529.3 918.2L529.9 918.0L530.6 918.0L531.3 917.7L532.0 917.8L532.7 917.7L533.4 917.6L534.1 917.4L534.8 917.0L535.5 916.6L536.1 916.5L536.8 916.4L537.5 916.4L538.2 916.2L538.9 915.8L539.6 915.9L540.3 916.0L541.0 916.3L541.6 916.6L542.3 916.3L543.0 916.1L543.7 915.9L544.4 915.7L545.1 915.7L545.8 915.4L546.5 915.4L547.1 915.6L547.8 915.5L548.5 915.5L549.2 915.3L549.9 915.6L550.6 915.9L551.3 915.7L552.0 915.4L552.6 915.1L553.3 915.1L554.0 915.2L554.7 915.2L555.4 915.0L556.1 914.9L556.8 915.2L557.5 915.5L558.1 915.6L558.8 915.7L559.5 915.7L560.2 915.9L560.9 915.8L561.6 915.5L562.3 915.3L563.0 915.2L563.6 915.4L564.3 915.7L565.0 916.0L565.7 916.3L566.4 916.6L567.1 916.1L567.8 915.6L568.5 915.2L569.1 914.9L569.8 914.5L570.5 914.3L571.2 914.2L571.9 914.1L572.6 914.2L573.3 914.4L574.0 914.4L574.7 914.6L575.3 914.9L576.0 914.6L576.7 914.4L577.4 914.2L578.1 914.2L578.8 914.3L579.5 914.1L580.2 914.2L580.8 914.3L581.5 914.2L582.2 913.9L582.9 913.7L583.6 913.4L584.3 913.1L585.0 912.9L585.7 912.6L586.3 912.5L587.0 912.4L587.7 912.6L588.4 912.2L589.1 911.9L589.8 911.6L590.5 911.4L591.2 911.2L591.8 911.4L592.5 911.2L593.2 910.9L593.9 910.7L594.6 910.6L595.3 910.6L596.0 910.8L596.7 911.1L597.3 910.7L598.0 910.4L598.7 909.6L599.4 909.5L600.1 909.6L600.8 909.5L601.5 909.4L602.2 909.7L602.8 910.0L603.5 909.6L604.2 909.7L604.9 910.0L605.6 910.4L606.3 910.3L607.0 909.9L607.7 909.6L608.3 909.4L609.0 909.3L609.7 909.0L610.4 908.6L611.1 908.4L611.8 908.3L612.5 908.1L613.2 908.0L613.9 907.9L614.5 908.1L615.2 908.3L615.9 908.0L616.6 907.8L617.3 907.5L618.0 907.2L618.7 906.8L619.4 906.6L620.0 906.3L620.7 906.0L621.4 905.9L622.1 905.6L622.8 905.4L623.5 905.2L624.2 905.0L624.9 905.4L625.5 905.5L626.2 906.1L626.9 906.8L627.6 907.5L628.3 907.8L629.0 908.7L629.7 910.1L630.4 910.9L631.0 910.0L631.7 909.0L632.4 908.3L633.1 908.5L633.8 908.7L634.5 908.6L635.2 908.6L635.9 908.4L636.5 908.5L637.2 909.7L637.9 910.1L638.6 909.8L639.3 909.3L640.0 908.9L640.7 908.6L641.4 908.3L642.0 908.0L642.7 908.1L643.4 907.8L644.1 907.3L644.8 906.9L645.5 906.6L646.2 906.3L646.9 906.1L647.5 905.9L648.2 905.8L648.9 905.6L649.6 905.9L650.3 906.0L651.0 904.9L651.7 904.3L652.4 904.0L653.0 903.9L653.7 904.3L654.4 904.1L655.1 904.2L655.8 904.7L656.5 904.8L657.2 904.6L657.9 904.5L658.6 904.3L659.2 904.2L659.9 903.9L660.6 904.0L661.3 903.8L662.0 903.2L662.7 903.0L663.4 903.2L664.1 903.4L664.7 903.4L665.4 903.6L666.1 903.8L666.8 904.1L667.5 903.9L668.2 903.4L668.9 902.7L669.6 903.1L670.2 903.4L670.9 903.6L671.6 903.9L672.3 904.1L673.0 903.8L673.7 903.8L674.4 903.9L675.1 904.3L675.7 904.9L676.4 905.3L677.1 905.7L677.8 906.2L678.5 907.0L679.2 907.8L679.9 908.2L680.6 907.5L681.2 907.0L681.9 906.5L682.6 906.1L683.3 906.7L684.0 907.1L684.7 907.9L685.4 910.3L686.1 910.7L686.7 910.3L687.4 910.3L688.1 911.2L688.8 911.9L689.5 909.8L690.2 909.3L690.9 908.9L691.6 908.4L692.2 908.2L692.9 907.5L693.6 906.4L694.3 906.2L695.0 906.5L695.7 906.6L696.4 907.4L697.1 907.5L697.8 906.8L698.4 906.6L699.1 906.4L699.8 906.3L700.5 906.0L701.2 906.1L701.9 905.9L702.6 905.8L703.3 905.5L703.9 905.2L704.6 904.8L705.3 904.6L706.0 904.4L706.7 904.1L707.4 904.0L708.1 903.7L708.8 903.5L709.4 903.8L710.1 903.6L710.8 903.2L711.5 902.8L712.2 903.7L712.9 903.6L713.6 903.2L714.3 903.0L714.9 902.8L715.6 902.7L716.3 902.8L717.0 902.7L717.7 902.7L718.4 902.5L719.1 902.5L719.8 902.4L720.4 902.3L721.1 902.0L721.8 901.8L722.5 901.7L723.2 901.4L723.9 901.3L724.6 901.4L725.3 901.2L725.9 900.8L726.6 900.4L727.3 899.4L728.0 899.9L728.7 900.4L729.4 900.8L730.1 900.2L730.8 899.7L731.4 899.1L732.1 898.8L732.8 898.5L733.5 898.9L734.2 899.5L734.9 898.7L735.6 899.1L736.3 899.4L737.0 899.5L737.6 898.9L738.3 898.3L739.0 898.0L740.0 898.2" fill="none" stroke="#5f7eab" stroke-width="0.9" stroke-linejoin="round" stroke-linecap="round"/><path d="M248.500 895.5V933.7" stroke="#efefef" stroke-width="1"/><path d="M580.500 895.5V933.7" stroke="#7d8794" stroke-width="0.800"/><text x="252.00" y="930.00" font-size="9.30" text-anchor="start" fill="#555" textLength="20.91" lengthAdjust="spacingAndGlyphs">2020</text><text x="418.00" y="930.00" font-size="9.30" text-anchor="start" fill="#555" textLength="20.91" lengthAdjust="spacingAndGlyphs">2022</text><text x="584.00" y="930.00" font-size="9.30" text-anchor="start" fill="#555" textLength="20.91" lengthAdjust="spacingAndGlyphs">2024</text><rect x="124" y="933.700" width="616" height="16.800" fill="url(#sb)"/><path d="M124 950.500H740" stroke="#c8c8c8" stroke-width="1"/><rect x="414.500" y="933.700" width="325.500" height="16.800" fill="url(#sbt)" stroke="#6e6e6e" stroke-width="1"/><path d="M574 938.500v7M577 938.500v7M580 938.500v7" stroke="#666" stroke-width="1"/><rect x="107.500" y="933.700" width="16.500" height="16.800" rx="1.500" fill="url(#sbb)" stroke="#8c8c8c" stroke-width="1"/><rect x="740" y="933.700" width="17" height="16.800" rx="1.500" fill="url(#sbb)" stroke="#8c8c8c" stroke-width="1"/><path d="M114.300 942.100l3.200-2.600v5.200z" fill="#666"/><path d="M750.500 942.100l-3.200-2.600v5.200z" fill="#666"/><path d="M107.500 895.5H414.500V933.7 M740 933.7V895.5H757" fill="none" stroke="#666" stroke-width="1.200"/><rect x="411.0" y="908" width="7" height="12.500" rx="2.500" fill="#fff" stroke="#666" stroke-width="1"/><path d="M413.5 911v6.500M415.5 911v6.500" stroke="#666" stroke-width="1"/><rect x="736.5" y="908" width="7" height="12.500" rx="2.500" fill="#fff" stroke="#666" stroke-width="1"/><path d="M739.0 911v6.500M741.0 911v6.500" stroke="#666" stroke-width="1"/></svg>

<!-- chart 3 -->
<div class="box" style="top:967px;height:117px"></div>
<div class="lg" style="left:48px;top:979px;width:238px;height:27px"></div>
<svg class="a" style="left:0;top:0" width="817" height="1090" viewBox="0 0 817 1090"><rect x="57" y="987" width="17" height="10" fill="#4679bd"/><text x="82.50" y="997.50" font-size="12.70" fill="#222">受取分配金額（税引後）</text><path d="M107.5 1025.5H757.5" stroke="#cfcfcf" stroke-width="1"/><text x="88.90" y="1029.80" font-size="9.30" text-anchor="end" fill="#5c5c5c" textLength="5.23" lengthAdjust="spacingAndGlyphs">2</text><text x="90.80" y="1030.10" font-size="10.20" fill="#666">円</text><text x="88.90" y="1069.80" font-size="9.30" text-anchor="end" fill="#5c5c5c" textLength="5.23" lengthAdjust="spacingAndGlyphs">0</text><text x="90.80" y="1070.10" font-size="10.20" fill="#666">円</text><path d="M107.5 1066.3H757.5" stroke="#d2d2d2" stroke-width="1"/><path d="M111.0 1066.300v3.500" stroke="#ccd6e6" stroke-width="1"/><text x="110.60" y="1078.00" font-size="9.30" text-anchor="middle" fill="#5c5c5c" textLength="35.20" lengthAdjust="spacingAndGlyphs">2022/01</text><path d="M191.8 1066.300v3.500" stroke="#ccd6e6" stroke-width="1"/><text x="191.39" y="1078.00" font-size="9.30" text-anchor="middle" fill="#5c5c5c" textLength="35.20" lengthAdjust="spacingAndGlyphs">2022/07</text><path d="M274.1 1066.300v3.500" stroke="#ccd6e6" stroke-width="1"/><text x="273.67" y="1078.00" font-size="9.30" text-anchor="middle" fill="#5c5c5c" textLength="35.20" lengthAdjust="spacingAndGlyphs">2023/01</text><path d="M355.0 1066.300v3.500" stroke="#ccd6e6" stroke-width="1"/><text x="354.55" y="1078.00" font-size="9.30" text-anchor="middle" fill="#5c5c5c" textLength="35.20" lengthAdjust="spacingAndGlyphs">2023/07</text><path d="M436.5 1066.300v3.500" stroke="#ccd6e6" stroke-width="1"/><text x="436.14" y="1078.00" font-size="9.30" text-anchor="middle" fill="#5c5c5c" textLength="35.20" lengthAdjust="spacingAndGlyphs">2024/01</text><path d="M517.6 1066.300v3.500" stroke="#ccd6e6" stroke-width="1"/><text x="517.22" y="1078.00" font-size="9.30" text-anchor="middle" fill="#5c5c5c" textLength="35.20" lengthAdjust="spacingAndGlyphs">2024/07</text><path d="M599.3 1066.300v3.500" stroke="#ccd6e6" stroke-width="1"/><text x="598.90" y="1078.00" font-size="9.30" text-anchor="middle" fill="#5c5c5c" textLength="35.20" lengthAdjust="spacingAndGlyphs">2025/01</text><path d="M679.4 1066.300v3.500" stroke="#ccd6e6" stroke-width="1"/><path d="M111 1065.300H750.600" stroke="#5a7db3" stroke-width="1" stroke-dasharray="1.100 1.100" opacity="0.750"/></svg>
<div class="a" style="left:8px;top:1088px;width:798px;height:2px;background:#eef1f8"></div>
</body></html>
